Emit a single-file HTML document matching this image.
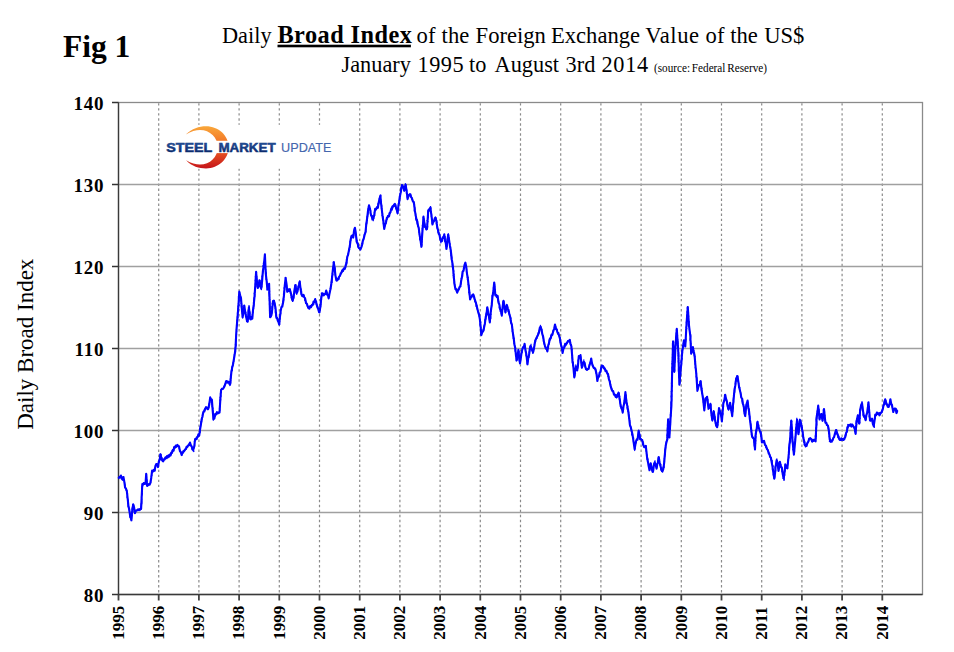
<!DOCTYPE html>
<html><head><meta charset="utf-8">
<style>
html,body{margin:0;padding:0;background:#fff;width:954px;height:652px;overflow:hidden}
svg{position:absolute;left:0;top:0}
</style></head><body>
<svg width="954" height="652" viewBox="0 0 954 652">
<line x1="158.70" y1="102.5" x2="158.70" y2="594.5" stroke="#8a8a8a" stroke-width="1.2" stroke-dasharray="2.4 2.62" stroke-dashoffset="4.35"/><line x1="198.90" y1="102.5" x2="198.90" y2="594.5" stroke="#8a8a8a" stroke-width="1.2" stroke-dasharray="2.4 2.62" stroke-dashoffset="4.35"/><line x1="239.10" y1="102.5" x2="239.10" y2="594.5" stroke="#8a8a8a" stroke-width="1.2" stroke-dasharray="2.4 2.62" stroke-dashoffset="4.35"/><line x1="279.30" y1="102.5" x2="279.30" y2="594.5" stroke="#8a8a8a" stroke-width="1.2" stroke-dasharray="2.4 2.62" stroke-dashoffset="4.35"/><line x1="319.50" y1="102.5" x2="319.50" y2="594.5" stroke="#8a8a8a" stroke-width="1.2" stroke-dasharray="2.4 2.62" stroke-dashoffset="4.35"/><line x1="359.70" y1="102.5" x2="359.70" y2="594.5" stroke="#8a8a8a" stroke-width="1.2" stroke-dasharray="2.4 2.62" stroke-dashoffset="4.35"/><line x1="399.90" y1="102.5" x2="399.90" y2="594.5" stroke="#8a8a8a" stroke-width="1.2" stroke-dasharray="2.4 2.62" stroke-dashoffset="4.35"/><line x1="440.10" y1="102.5" x2="440.10" y2="594.5" stroke="#8a8a8a" stroke-width="1.2" stroke-dasharray="2.4 2.62" stroke-dashoffset="4.35"/><line x1="480.30" y1="102.5" x2="480.30" y2="594.5" stroke="#8a8a8a" stroke-width="1.2" stroke-dasharray="2.4 2.62" stroke-dashoffset="4.35"/><line x1="520.50" y1="102.5" x2="520.50" y2="594.5" stroke="#8a8a8a" stroke-width="1.2" stroke-dasharray="2.4 2.62" stroke-dashoffset="4.35"/><line x1="560.70" y1="102.5" x2="560.70" y2="594.5" stroke="#8a8a8a" stroke-width="1.2" stroke-dasharray="2.4 2.62" stroke-dashoffset="4.35"/><line x1="600.90" y1="102.5" x2="600.90" y2="594.5" stroke="#8a8a8a" stroke-width="1.2" stroke-dasharray="2.4 2.62" stroke-dashoffset="4.35"/><line x1="641.10" y1="102.5" x2="641.10" y2="594.5" stroke="#8a8a8a" stroke-width="1.2" stroke-dasharray="2.4 2.62" stroke-dashoffset="4.35"/><line x1="681.30" y1="102.5" x2="681.30" y2="594.5" stroke="#8a8a8a" stroke-width="1.2" stroke-dasharray="2.4 2.62" stroke-dashoffset="4.35"/><line x1="721.50" y1="102.5" x2="721.50" y2="594.5" stroke="#8a8a8a" stroke-width="1.2" stroke-dasharray="2.4 2.62" stroke-dashoffset="4.35"/><line x1="761.70" y1="102.5" x2="761.70" y2="594.5" stroke="#8a8a8a" stroke-width="1.2" stroke-dasharray="2.4 2.62" stroke-dashoffset="4.35"/><line x1="801.90" y1="102.5" x2="801.90" y2="594.5" stroke="#8a8a8a" stroke-width="1.2" stroke-dasharray="2.4 2.62" stroke-dashoffset="4.35"/><line x1="842.10" y1="102.5" x2="842.10" y2="594.5" stroke="#8a8a8a" stroke-width="1.2" stroke-dasharray="2.4 2.62" stroke-dashoffset="4.35"/><line x1="882.30" y1="102.5" x2="882.30" y2="594.5" stroke="#8a8a8a" stroke-width="1.2" stroke-dasharray="2.4 2.62" stroke-dashoffset="4.35"/>
<line x1="118.5" y1="184.50" x2="922.5" y2="184.50" stroke="#a0a0a0" stroke-width="1.3"/><line x1="118.5" y1="266.50" x2="922.5" y2="266.50" stroke="#a0a0a0" stroke-width="1.3"/><line x1="118.5" y1="348.50" x2="922.5" y2="348.50" stroke="#a0a0a0" stroke-width="1.3"/><line x1="118.5" y1="430.50" x2="922.5" y2="430.50" stroke="#a0a0a0" stroke-width="1.3"/><line x1="118.5" y1="512.50" x2="922.5" y2="512.50" stroke="#a0a0a0" stroke-width="1.3"/>
<rect x="118.5" y="102.5" width="804.0" height="492.0" fill="none" stroke="#8a8a8a" stroke-width="1.3"/>
<g font-family="Liberation Serif, serif" font-weight="bold" font-size="19" letter-spacing="0.8" fill="#000"><text x="104.3" y="110.00" text-anchor="end">140</text><line x1="112" y1="102.50" x2="118.5" y2="102.50" stroke="#333" stroke-width="1.5"/><text x="104.3" y="192.00" text-anchor="end">130</text><line x1="112" y1="184.50" x2="118.5" y2="184.50" stroke="#333" stroke-width="1.5"/><text x="104.3" y="274.00" text-anchor="end">120</text><line x1="112" y1="266.50" x2="118.5" y2="266.50" stroke="#333" stroke-width="1.5"/><text x="104.3" y="356.00" text-anchor="end">110</text><line x1="112" y1="348.50" x2="118.5" y2="348.50" stroke="#333" stroke-width="1.5"/><text x="104.3" y="438.00" text-anchor="end">100</text><line x1="112" y1="430.50" x2="118.5" y2="430.50" stroke="#333" stroke-width="1.5"/><text x="104.3" y="520.00" text-anchor="end">90</text><line x1="112" y1="512.50" x2="118.5" y2="512.50" stroke="#333" stroke-width="1.5"/><text x="104.3" y="602.00" text-anchor="end">80</text><line x1="112" y1="594.50" x2="118.5" y2="594.50" stroke="#333" stroke-width="1.5"/></g>
<g font-family="Liberation Serif, serif" font-weight="bold" font-size="17" fill="#000"><line x1="118.50" y1="594.5" x2="118.50" y2="600.5" stroke="#444" stroke-width="1.8"/><text transform="translate(123.80,639.8) rotate(-90)">1995</text><line x1="158.70" y1="594.5" x2="158.70" y2="600.5" stroke="#444" stroke-width="1.8"/><text transform="translate(164.00,639.8) rotate(-90)">1996</text><line x1="198.90" y1="594.5" x2="198.90" y2="600.5" stroke="#444" stroke-width="1.8"/><text transform="translate(204.20,639.8) rotate(-90)">1997</text><line x1="239.10" y1="594.5" x2="239.10" y2="600.5" stroke="#444" stroke-width="1.8"/><text transform="translate(244.40,639.8) rotate(-90)">1998</text><line x1="279.30" y1="594.5" x2="279.30" y2="600.5" stroke="#444" stroke-width="1.8"/><text transform="translate(284.60,639.8) rotate(-90)">1999</text><line x1="319.50" y1="594.5" x2="319.50" y2="600.5" stroke="#444" stroke-width="1.8"/><text transform="translate(324.80,639.8) rotate(-90)">2000</text><line x1="359.70" y1="594.5" x2="359.70" y2="600.5" stroke="#444" stroke-width="1.8"/><text transform="translate(365.00,639.8) rotate(-90)">2001</text><line x1="399.90" y1="594.5" x2="399.90" y2="600.5" stroke="#444" stroke-width="1.8"/><text transform="translate(405.20,639.8) rotate(-90)">2002</text><line x1="440.10" y1="594.5" x2="440.10" y2="600.5" stroke="#444" stroke-width="1.8"/><text transform="translate(445.40,639.8) rotate(-90)">2003</text><line x1="480.30" y1="594.5" x2="480.30" y2="600.5" stroke="#444" stroke-width="1.8"/><text transform="translate(485.60,639.8) rotate(-90)">2004</text><line x1="520.50" y1="594.5" x2="520.50" y2="600.5" stroke="#444" stroke-width="1.8"/><text transform="translate(525.80,639.8) rotate(-90)">2005</text><line x1="560.70" y1="594.5" x2="560.70" y2="600.5" stroke="#444" stroke-width="1.8"/><text transform="translate(566.00,639.8) rotate(-90)">2006</text><line x1="600.90" y1="594.5" x2="600.90" y2="600.5" stroke="#444" stroke-width="1.8"/><text transform="translate(606.20,639.8) rotate(-90)">2007</text><line x1="641.10" y1="594.5" x2="641.10" y2="600.5" stroke="#444" stroke-width="1.8"/><text transform="translate(646.40,639.8) rotate(-90)">2008</text><line x1="681.30" y1="594.5" x2="681.30" y2="600.5" stroke="#444" stroke-width="1.8"/><text transform="translate(686.60,639.8) rotate(-90)">2009</text><line x1="721.50" y1="594.5" x2="721.50" y2="600.5" stroke="#444" stroke-width="1.8"/><text transform="translate(726.80,639.8) rotate(-90)">2010</text><line x1="761.70" y1="594.5" x2="761.70" y2="600.5" stroke="#444" stroke-width="1.8"/><text transform="translate(767.00,639.8) rotate(-90)">2011</text><line x1="801.90" y1="594.5" x2="801.90" y2="600.5" stroke="#444" stroke-width="1.8"/><text transform="translate(807.20,639.8) rotate(-90)">2012</text><line x1="842.10" y1="594.5" x2="842.10" y2="600.5" stroke="#444" stroke-width="1.8"/><text transform="translate(847.40,639.8) rotate(-90)">2013</text><line x1="882.30" y1="594.5" x2="882.30" y2="600.5" stroke="#444" stroke-width="1.8"/><text transform="translate(887.60,639.8) rotate(-90)">2014</text></g>
<line x1="118.5" y1="102.5" x2="118.5" y2="594.5" stroke="#3a3a3a" stroke-width="1.3"/>
<line x1="118.5" y1="594.5" x2="922.5" y2="594.5" stroke="#3a3a3a" stroke-width="1.3"/>

<rect x="163" y="124.8" width="178" height="43.8" fill="#fff"/>
<defs>
<linearGradient id="arcg" x1="0" y1="126" x2="0" y2="169" gradientUnits="userSpaceOnUse">
<stop offset="0" stop-color="#f9a83a"/><stop offset="0.5" stop-color="#f06522"/><stop offset="1" stop-color="#c4121b"/>
</linearGradient>
<linearGradient id="txg" x1="0" y1="142" x2="0" y2="152" gradientUnits="userSpaceOnUse">
<stop offset="0" stop-color="#2a5aa6"/><stop offset="1" stop-color="#0a2868"/>
</linearGradient>
</defs>
<path d="M185.8 134.6 C192 128.5 199 126.2 206 126.2 C218.5 126.2 228.7 135.5 228.7 147.3 C228.7 159 218.5 168.4 206 168.4 C199 168.4 192 166.5 186.1 160.3 C191 163.3 196 164.6 200 164.6 C210 164.6 217.8 157 217.8 147.3 C217.8 137.6 210 130 200 130 C196 130 191 131.3 185.8 134.6 Z" fill="url(#arcg)"/>
<rect x="213" y="140.8" width="18" height="12.3" fill="#fff"/>
<text x="166.3" y="151.6" font-family="Liberation Sans, sans-serif" font-weight="bold" font-size="12.5" fill="url(#txg)" stroke="#10357c" stroke-width="0.5" textLength="46" lengthAdjust="spacingAndGlyphs">STEEL</text>
<text x="218.4" y="151.6" font-family="Liberation Sans, sans-serif" font-weight="bold" font-size="12.5" fill="url(#txg)" stroke="#10357c" stroke-width="0.5" textLength="57.2" lengthAdjust="spacingAndGlyphs">MARKET</text>
<text x="281.1" y="151.6" font-family="Liberation Sans, sans-serif" font-size="12.5" fill="#4466ad" stroke="#4466ad" stroke-width="0.15" textLength="50.4" lengthAdjust="spacingAndGlyphs">UPDATE</text>

<path d="M118.40 478.62 L119.23 477.14 L120.07 477.31 L120.90 475.51 L121.70 478.50 L122.50 479.52 L123.50 477.08 L124.30 481.59 L125.10 487.55 L125.95 488.59 L126.80 490.89 L127.65 498.28 L128.50 506.55 L129.25 509.43 L130.00 515.16 L130.70 516.96 L131.40 520.32 L132.20 510.77 L133.20 504.25 L134.05 507.18 L134.90 513.17 L135.90 510.59 L136.90 510.52 L137.95 509.32 L139.00 510.19 L140.05 509.10 L141.10 508.90 L142.30 483.94 L143.03 484.63 L143.77 483.04 L144.50 484.03 L145.50 483.52 L146.20 473.81 L147.00 485.72 L147.85 485.23 L148.70 484.23 L149.55 484.73 L150.40 482.64 L151.25 477.71 L152.10 470.64 L152.93 471.42 L153.77 469.88 L154.60 470.73 L155.45 465.84 L156.30 464.12 L157.15 464.35 L158.00 467.08 L158.83 461.33 L159.67 459.48 L160.50 454.23 L161.50 459.07 L162.50 460.85 L163.20 461.29 L163.90 459.52 L164.75 459.40 L165.60 457.26 L166.31 457.48 L167.03 456.09 L167.74 457.48 L168.46 455.27 L169.17 456.68 L169.89 454.66 L170.60 455.50 L171.32 452.56 L172.03 452.82 L172.75 450.21 L173.47 450.63 L174.18 447.04 L174.90 447.62 L175.72 445.71 L176.55 446.23 L177.38 444.81 L178.20 446.14 L179.05 446.33 L179.90 451.02 L180.75 451.91 L181.60 455.10 L182.30 452.75 L183.00 452.66 L183.70 451.05 L184.40 450.89 L185.10 449.53 L185.80 448.78 L186.64 446.68 L187.48 446.83 L188.32 445.32 L189.16 445.13 L190.00 442.47 L190.85 445.40 L191.70 446.42 L192.55 449.41 L193.40 449.25 L194.25 446.37 L195.10 439.08 L195.92 439.40 L196.74 437.34 L197.56 437.19 L198.38 434.41 L199.20 435.65 L200.00 429.80 L200.85 424.88 L201.70 419.00 L202.55 416.20 L203.40 411.87 L204.27 411.60 L205.13 408.83 L206.00 407.51 L206.73 407.49 L207.47 409.05 L208.20 408.36 L209.20 404.89 L210.20 397.30 L211.05 400.12 L211.90 399.90 L212.70 410.88 L213.50 419.23 L214.37 418.50 L215.23 414.35 L216.10 414.54 L216.95 412.14 L217.80 413.46 L218.65 412.21 L219.50 412.63 L220.30 400.28 L221.10 389.78 L221.97 389.08 L222.83 388.90 L223.70 387.89 L224.53 386.28 L225.37 383.50 L226.20 381.30 L227.03 381.40 L227.87 382.03 L228.70 381.73 L229.40 383.88 L230.10 384.36 L231.30 372.80 L232.13 367.87 L232.97 364.46 L233.80 359.75 L234.65 354.77 L235.50 348.24 L236.40 330.50 L237.60 316.31 L238.45 305.56 L239.30 291.67 L240.15 295.36 L241.00 298.07 L241.80 308.35 L242.60 317.26 L243.45 312.78 L244.30 305.59 L245.15 311.73 L246.00 316.36 L246.85 320.39 L247.70 321.61 L248.90 307.31 L250.20 319.26 L250.90 319.42 L251.60 316.89 L252.30 318.72 L253.03 309.93 L253.77 304.41 L254.50 296.82 L255.30 285.32 L256.10 271.90 L256.95 281.59 L257.80 287.89 L258.65 285.13 L259.50 280.21 L260.35 286.15 L261.20 288.42 L262.05 281.96 L262.90 270.95 L263.90 264.66 L264.90 254.24 L265.80 273.99 L266.60 280.63 L267.40 289.36 L268.25 286.31 L269.10 283.84 L270.10 317.24 L270.95 316.24 L271.80 313.30 L273.00 301.14 L273.85 300.57 L274.70 303.62 L275.55 308.27 L276.40 317.94 L277.10 318.13 L277.80 320.79 L278.50 322.11 L279.20 324.56 L279.90 317.28 L280.60 311.61 L281.43 307.10 L282.27 306.83 L283.10 302.58 L283.93 295.65 L284.77 285.36 L285.60 278.11 L286.45 283.44 L287.30 291.78 L288.17 289.28 L289.03 290.98 L289.90 289.08 L290.60 292.91 L291.30 294.62 L292.00 299.06 L292.70 300.56 L293.60 297.23 L294.50 289.82 L295.40 285.22 L296.70 293.07 L297.50 291.54 L298.23 287.41 L298.97 284.83 L299.70 281.50 L300.70 290.03 L301.70 294.95 L302.57 296.19 L303.43 294.93 L304.30 297.27 L305.15 298.50 L306.00 303.16 L306.83 303.69 L307.67 306.27 L308.50 307.78 L309.35 308.64 L310.20 306.11 L311.05 307.21 L311.90 304.89 L312.72 304.99 L313.55 301.62 L314.38 302.15 L315.20 299.13 L315.93 302.26 L316.67 304.09 L317.40 307.31 L318.10 308.20 L318.80 311.27 L319.50 312.36 L320.30 307.17 L321.15 299.07 L322.00 293.96 L322.83 293.47 L323.67 295.39 L324.50 294.02 L325.35 294.05 L326.20 290.61 L327.03 294.42 L327.87 295.04 L328.70 298.38 L329.57 293.18 L330.43 289.27 L331.30 283.96 L332.13 276.91 L332.97 268.56 L333.80 262.52 L334.63 267.85 L335.47 275.58 L336.30 280.08 L337.02 280.40 L337.75 278.48 L338.48 279.05 L339.20 276.48 L339.95 275.94 L340.70 273.37 L341.45 272.72 L342.20 270.34 L343.05 270.85 L343.90 268.34 L344.75 268.88 L345.60 266.31 L346.45 263.44 L347.30 256.62 L348.15 254.65 L349.00 249.84 L349.83 246.10 L350.67 239.47 L351.50 235.89 L352.35 235.46 L353.20 237.62 L354.05 230.73 L354.90 227.81 L355.75 232.51 L356.60 241.62 L357.53 243.13 L358.47 247.26 L359.40 248.37 L360.40 249.54 L361.40 247.12 L362.10 244.71 L362.80 241.23 L363.70 238.66 L364.60 235.02 L365.50 232.20 L366.35 223.63 L367.20 217.92 L368.10 209.88 L369.00 205.40 L370.00 208.77 L371.00 215.06 L371.70 216.08 L372.40 219.48 L373.10 219.14 L374.15 215.49 L375.20 208.76 L376.10 209.38 L377.00 207.10 L377.90 207.89 L378.73 202.05 L379.57 199.88 L380.40 195.64 L381.10 203.77 L381.80 209.56 L382.60 216.25 L383.40 221.59 L384.20 228.94 L385.10 224.74 L386.00 222.25 L386.90 217.73 L387.60 217.42 L388.30 216.07 L389.00 216.41 L389.70 213.21 L390.40 212.23 L391.10 209.14 L391.80 209.72 L392.55 206.21 L393.30 206.39 L394.05 204.68 L394.80 203.85 L395.50 205.04 L396.20 208.65 L396.90 210.38 L397.60 213.35 L398.45 205.42 L399.30 201.46 L400.00 196.09 L400.70 192.64 L401.40 187.28 L402.10 185.24 L403.15 186.69 L404.20 190.82 L404.90 187.18 L405.60 184.69 L406.60 190.85 L407.60 199.09 L408.65 195.03 L409.70 194.32 L410.40 194.29 L411.10 197.28 L411.80 197.89 L412.80 201.14 L413.80 201.98 L414.85 210.59 L415.90 216.46 L416.60 220.39 L417.30 221.25 L418.00 225.57 L418.70 227.83 L419.60 234.88 L420.50 240.09 L421.40 246.74 L422.10 236.49 L422.80 226.87 L423.50 216.64 L424.90 227.01 L425.60 227.14 L426.30 229.45 L427.00 229.02 L428.20 211.35 L428.93 209.40 L429.67 209.02 L430.40 207.48 L431.10 213.19 L431.80 218.21 L432.50 224.55 L433.30 221.28 L434.10 220.65 L434.90 218.18 L435.70 218.42 L436.43 221.36 L437.17 226.86 L437.90 229.54 L438.70 233.69 L439.50 234.92 L440.30 239.46 L441.10 241.24 L441.90 241.17 L442.70 237.37 L443.50 237.47 L444.30 234.32 L445.03 240.62 L445.77 243.17 L446.50 248.83 L447.35 240.90 L448.20 234.47 L449.07 239.93 L449.93 245.89 L450.80 250.54 L451.85 259.38 L452.90 266.39 L453.75 276.36 L454.60 284.81 L455.47 289.17 L456.33 289.29 L457.20 292.67 L458.00 290.39 L458.80 289.48 L459.60 286.90 L460.40 286.10 L461.13 281.02 L461.87 277.64 L462.60 271.75 L463.53 270.70 L464.47 265.16 L465.40 262.62 L466.23 266.74 L467.07 274.10 L467.90 278.94 L468.63 285.87 L469.37 291.84 L470.10 299.42 L470.90 297.07 L471.70 296.91 L472.50 294.92 L473.30 294.51 L474.10 296.83 L474.90 299.97 L475.70 302.01 L476.50 305.25 L477.32 308.40 L478.15 312.05 L478.98 314.57 L479.80 318.86 L480.55 325.46 L481.30 335.18 L482.20 331.55 L483.10 331.53 L484.00 327.66 L484.82 323.96 L485.65 317.68 L486.48 314.03 L487.30 307.21 L488.13 313.34 L488.97 316.56 L489.80 322.46 L490.75 312.01 L491.70 304.96 L492.53 296.22 L493.37 291.22 L494.20 282.44 L495.40 295.48 L496.13 295.19 L496.87 297.09 L497.60 295.91 L498.45 302.25 L499.30 304.33 L500.13 309.26 L500.97 310.44 L501.80 315.59 L502.65 306.65 L503.50 300.70 L504.50 306.26 L505.50 312.37 L506.90 304.93 L507.73 308.37 L508.57 309.98 L509.40 314.63 L510.23 317.02 L511.07 322.58 L511.90 324.82 L512.75 332.24 L513.60 337.50 L514.45 344.44 L515.30 348.33 L516.00 355.85 L516.70 360.40 L517.55 356.51 L518.40 350.11 L519.20 357.91 L520.00 363.37 L520.70 359.00 L521.40 353.75 L522.10 350.25 L522.93 347.63 L523.77 347.46 L524.60 343.83 L525.45 350.39 L526.30 353.90 L527.50 364.32 L528.25 358.16 L529.00 355.40 L529.75 348.95 L530.50 345.94 L531.33 347.53 L532.17 350.36 L533.00 352.37 L533.87 349.17 L534.73 343.30 L535.60 339.94 L536.43 337.78 L537.27 336.48 L538.10 334.65 L538.93 332.77 L539.77 327.90 L540.60 326.58 L541.47 329.26 L542.33 334.24 L543.20 336.90 L544.05 342.36 L544.90 345.85 L545.73 348.56 L546.57 348.54 L547.40 351.47 L548.23 345.32 L549.07 342.89 L549.90 338.60 L550.73 338.57 L551.57 334.54 L552.40 334.68 L553.27 330.95 L554.13 328.77 L555.00 324.47 L555.83 328.21 L556.67 329.41 L557.50 332.58 L558.35 333.02 L559.20 336.24 L560.05 339.05 L560.90 344.52 L561.75 347.01 L562.60 353.05 L563.43 348.72 L564.27 347.67 L565.10 343.93 L565.90 344.67 L566.70 342.93 L567.50 341.90 L568.23 340.73 L568.97 341.42 L569.70 339.91 L570.55 343.83 L571.40 346.55 L572.60 360.91 L573.45 367.86 L574.30 377.40 L575.15 370.52 L576.00 366.69 L577.20 370.44 L578.00 365.05 L578.80 356.17 L579.65 357.42 L580.50 355.02 L581.90 367.78 L582.90 363.39 L583.90 361.80 L584.63 362.83 L585.37 367.17 L586.10 369.24 L586.93 369.86 L587.77 369.14 L588.60 369.03 L589.47 364.75 L590.33 363.14 L591.20 358.48 L592.00 363.37 L592.80 366.05 L593.67 367.90 L594.53 367.82 L595.40 369.39 L596.40 373.16 L597.40 381.05 L598.13 376.88 L598.87 376.79 L599.60 372.81 L600.43 372.12 L601.27 367.09 L602.10 365.64 L602.97 366.04 L603.83 368.45 L604.70 368.31 L605.53 371.15 L606.35 370.61 L607.17 373.10 L608.00 373.94 L608.85 379.00 L609.70 381.43 L610.55 386.01 L611.40 388.75 L612.27 390.99 L613.13 391.04 L614.00 394.67 L614.83 394.46 L615.67 397.05 L616.50 397.21 L617.23 396.66 L617.97 393.75 L618.70 392.82 L619.70 399.14 L620.70 406.37 L621.70 407.87 L622.70 412.65 L623.55 406.21 L624.40 402.18 L625.40 392.10 L626.60 403.28 L627.35 406.07 L628.10 410.05 L629.00 417.03 L629.90 424.94 L630.80 427.43 L631.70 430.91 L632.50 434.56 L633.30 439.94 L634.60 449.05 L636.00 441.37 L636.75 439.26 L637.50 439.74 L638.70 430.62 L639.50 435.74 L640.30 438.76 L641.25 439.88 L642.20 440.04 L643.10 444.76 L644.00 446.44 L644.90 447.25 L645.80 445.78 L647.10 457.52 L648.50 464.72 L649.50 470.25 L650.70 463.38 L651.65 468.52 L652.60 471.72 L653.30 469.87 L654.00 463.86 L654.70 462.43 L655.65 464.92 L656.60 468.64 L657.30 464.01 L658.00 462.43 L658.70 456.98 L659.60 462.66 L660.50 466.20 L661.45 469.76 L662.40 471.10 L663.30 469.07 L664.20 462.59 L665.40 447.86 L666.35 442.58 L667.30 439.34 L668.10 419.40 L669.40 437.48 L670.60 417.51 L671.40 406.02 L672.10 373.46 L673.10 341.44 L674.30 371.71 L675.50 346.29 L676.80 328.88 L677.50 340.20 L678.20 349.68 L679.40 384.80 L680.50 371.50 L681.35 363.39 L682.20 352.01 L683.05 346.67 L683.90 340.27 L685.30 346.53 L686.60 322.79 L687.80 306.95 L689.00 325.31 L690.30 336.18 L691.20 353.34 L692.05 351.25 L692.90 347.11 L693.75 352.38 L694.60 355.79 L695.45 365.49 L696.30 373.80 L697.40 390.85 L698.80 385.36 L699.70 385.30 L700.60 381.48 L701.80 391.01 L703.10 398.98 L704.30 410.35 L705.50 398.38 L706.30 398.45 L707.10 396.77 L707.85 403.60 L708.60 408.22 L709.50 407.20 L710.40 403.87 L711.35 413.67 L712.30 420.20 L713.05 416.79 L713.80 411.56 L714.60 417.54 L715.40 422.05 L716.30 425.94 L717.20 427.24 L718.10 419.34 L719.00 408.14 L720.30 412.26 L721.10 415.63 L721.90 421.46 L723.30 403.79 L724.25 400.67 L725.20 394.70 L726.00 398.69 L726.80 400.81 L727.65 406.48 L728.50 409.16 L729.30 407.34 L730.10 402.76 L730.80 407.39 L731.50 410.66 L732.20 416.16 L732.93 405.87 L733.67 399.09 L734.40 390.19 L735.30 385.43 L736.20 378.33 L737.50 376.18 L738.30 381.43 L739.10 387.08 L740.50 392.69 L741.33 397.63 L742.17 398.58 L743.00 403.95 L743.73 406.20 L744.47 413.21 L745.20 416.07 L746.40 404.44 L747.60 400.58 L748.35 407.67 L749.10 411.56 L749.85 419.21 L750.60 424.61 L751.40 431.74 L752.20 436.97 L753.10 438.22 L754.00 438.60 L755.00 449.36 L755.70 434.04 L756.60 429.54 L757.50 421.94 L758.30 426.80 L759.10 428.73 L759.95 431.51 L760.80 432.03 L761.90 442.47 L762.60 440.84 L763.30 441.46 L764.00 440.78 L765.00 444.63 L766.00 445.70 L766.93 449.02 L767.87 450.16 L768.80 453.67 L769.50 454.51 L770.20 457.13 L770.90 457.59 L771.60 461.70 L772.50 466.65 L773.40 472.75 L774.30 478.62 L775.00 473.70 L775.70 465.97 L776.80 460.37 L777.65 463.73 L778.50 470.84 L779.90 461.75 L780.90 466.79 L781.90 468.20 L782.80 474.54 L783.70 478.47 L784.55 472.56 L785.40 464.54 L786.40 466.95 L787.40 468.02 L788.80 453.69 L789.50 444.08 L790.20 438.53 L791.30 420.67 L792.60 441.70 L793.90 454.58 L795.30 439.94 L796.20 427.76 L797.10 419.80 L798.50 434.17 L799.90 419.86 L800.90 422.81 L801.90 428.81 L802.60 431.96 L803.30 437.84 L804.00 440.44 L804.90 445.22 L805.80 445.90 L806.60 445.86 L807.40 442.81 L808.20 441.82 L809.20 438.88 L810.20 438.32 L811.25 439.25 L812.30 441.66 L813.00 439.95 L813.70 440.79 L814.40 439.92 L815.60 441.44 L816.70 416.48 L817.45 412.47 L818.20 405.63 L819.60 419.55 L820.45 414.82 L821.30 414.14 L822.50 420.59 L823.25 415.33 L824.00 409.05 L825.40 422.72 L826.25 422.67 L827.10 425.00 L827.85 425.61 L828.60 428.41 L829.70 439.32 L830.70 441.77 L831.70 440.30 L832.55 440.51 L833.40 437.74 L834.12 437.14 L834.85 433.82 L835.57 433.09 L836.30 430.02 L837.15 434.01 L838.00 435.34 L838.85 438.22 L839.70 439.88 L840.47 440.03 L841.23 438.32 L842.00 439.85 L842.77 438.88 L843.53 440.01 L844.30 438.41 L845.20 437.16 L846.10 433.00 L846.87 431.48 L847.63 426.72 L848.40 425.99 L849.17 424.77 L849.93 425.72 L850.70 424.24 L851.47 426.59 L852.23 424.51 L853.00 425.95 L853.85 426.92 L854.70 428.85 L855.50 433.65 L856.70 420.76 L857.80 415.34 L858.55 421.31 L859.30 423.62 L860.10 410.33 L861.05 405.42 L862.00 403.14 L863.30 412.79 L864.07 416.93 L864.83 417.46 L865.60 420.27 L866.50 414.69 L867.40 411.78 L868.50 402.32 L869.25 411.93 L870.00 420.43 L871.00 420.43 L872.00 418.72 L872.85 423.80 L873.70 426.14 L874.55 420.66 L875.40 414.47 L876.25 414.93 L877.10 412.96 L877.87 413.97 L878.63 413.67 L879.40 415.33 L880.20 412.85 L881.00 412.92 L881.80 411.97 L882.65 409.71 L883.50 405.58 L884.35 403.68 L885.20 399.28 L886.05 402.46 L886.90 404.20 L887.80 406.78 L888.70 407.03 L889.55 404.35 L890.40 399.26 L891.15 403.51 L891.90 404.96 L893.30 411.96 L894.15 408.91 L895.00 408.52 L895.75 408.70 L896.50 413.07 L897.30 411.19 L898.10 411.25" fill="none" stroke="#0000ff" stroke-width="2.1" stroke-linejoin="round"/>
<path d="M118.3 478.4 L119.5 477.4 L119.7 477.2 L119.9 476.3 L121.1 476.5 L120.7 475.9 L121.0 478.4 L122.1 476.8 L122.8 480.6 L122.7 480.4 L122.4 477.4 L123.2 476.6 L123.1 476.2 L123.1 477.7 L123.7 479.7 L123.9 479.9 L124.0 480.8 L124.1 480.3 L124.8 483.4 L124.8 483.3 L124.3 482.6 L124.4 482.9 L125.1 484.8 L125.3 485.5 L125.5 487.8 L124.5 486.6 L126.0 488.2 L126.5 488.8 L125.9 490.4 L127.1 490.1 L126.4 491.1 L127.5 493.2 L126.6 492.4 L126.7 492.6 L127.6 493.8 L127.4 495.4 L127.1 497.1 L127.1 497.7 L127.1 497.7 L127.4 498.1 L128.3 500.6 L127.6 501.6 L127.6 500.9 L128.5 502.5 L127.7 504.4 L127.9 502.8 L128.6 503.9 L128.2 503.8 L128.0 506.3 L128.3 507.1 L128.6 507.5 L129.5 508.4 L129.1 510.4 L128.8 509.0 L129.8 511.9 L129.2 510.7 L129.9 514.0 L129.4 514.8 L130.3 514.5 L129.9 513.7 L129.7 517.4 L130.2 517.5 L130.5 518.7 L131.2 517.9 L131.0 520.2 L131.0 517.8 L131.6 519.0 L131.8 516.3 L132.3 515.2 L131.3 514.6 L131.9 513.1 L131.6 513.2 L132.2 511.7 L132.0 513.3 L132.9 511.7 L132.6 510.6 L132.1 508.0 L132.0 509.9 L132.9 509.2 L132.2 507.3 L132.9 506.8 L132.8 506.8 L132.6 504.5 L133.5 504.8 L133.7 505.0 L133.9 506.5 L133.5 506.6 L134.4 508.0 L134.0 508.6 L134.7 508.8 L134.5 509.0 L134.7 510.6 L134.2 511.5 L135.5 513.1 L135.7 510.9 L136.2 510.9 L136.3 511.1 L136.4 510.2 L137.4 510.0 L139.0 509.1 L139.9 509.5 L140.5 510.3 L140.8 506.9 L140.9 508.3 L140.8 505.8 L141.7 506.6 L141.2 506.5 L141.1 505.0 L141.0 503.4 L141.8 504.2 L141.9 501.6 L141.6 500.6 L141.1 500.4 L142.0 500.7 L141.9 500.2 L141.4 496.9 L141.6 496.4 L141.4 496.1 L141.9 495.5 L141.6 495.8 L142.4 493.8 L141.4 491.6 L142.4 490.8 L142.2 491.7 L141.8 491.6 L141.5 488.7 L142.0 487.5 L142.5 487.4 L141.7 486.0 L142.4 486.4 L142.4 486.3 L142.7 486.5 L143.3 483.4 L143.7 482.8 L143.9 483.1 L145.8 483.0 L145.3 482.7 L145.8 482.4 L145.8 482.3 L145.6 481.6 L146.3 478.5 L146.3 479.7 L145.4 478.0 L146.1 478.6 L145.8 476.7 L146.5 476.6 L146.6 474.7 L146.3 473.0 L146.5 474.1 L146.4 474.6 L146.0 476.1 L146.9 477.2 L146.5 477.4 L146.3 478.6 L146.9 477.7 L146.1 478.8 L146.7 480.7 L146.7 479.2 L147.1 480.2 L147.1 481.4 L146.6 484.2 L146.5 483.0 L147.0 485.7 L147.4 486.4 L148.2 485.3 L148.9 483.4 L148.7 484.3 L149.5 484.5 L150.6 483.3 L150.9 482.5 L150.4 481.1 L151.2 482.0 L150.5 481.0 L151.6 479.1 L151.2 477.2 L151.3 477.3 L151.5 474.9 L152.1 475.7 L151.5 475.7 L151.8 473.9 L152.1 471.7 L152.0 472.0 L152.6 472.8 L152.7 470.7 L153.3 470.1 L155.0 471.0 L154.8 468.3 L154.7 468.4 L155.8 466.0 L155.9 464.8 L155.4 464.6 L156.3 464.1 L156.1 464.2 L156.4 465.4 L157.0 465.6 L157.7 465.4 L158.2 465.4 L158.2 464.5 L158.5 463.0 L158.3 463.7 L159.0 462.6 L159.4 462.0 L159.6 460.0 L159.6 461.1 L160.0 458.7 L159.4 459.9 L159.5 459.3 L160.5 455.8 L159.9 456.9 L160.0 454.1 L160.9 454.3 L161.1 454.2 L160.9 456.8 L160.7 456.0 L161.7 459.1 L162.3 457.4 L162.0 460.2 L162.3 460.8 L162.1 459.6 L163.4 459.0 L164.5 459.7 L165.1 457.6 L165.2 457.0 L166.7 459.0 L167.5 455.7 L167.2 457.9 L168.4 456.9 L169.0 455.4 L169.9 454.8 L170.7 453.0 L171.3 454.9 L171.1 452.9 L172.2 452.0 L172.0 450.5 L172.8 449.2 L173.7 451.0 L173.9 450.4 L174.2 448.2 L174.6 447.8 L175.5 448.0 L175.4 447.9 L176.8 447.0 L177.8 445.4 L178.7 446.5 L178.7 446.9 L179.1 446.5 L179.3 446.3 L179.1 448.3 L179.0 448.7 L180.1 450.3 L179.9 452.1 L180.7 451.0 L180.9 452.5 L181.1 452.7 L181.9 454.3 L181.8 455.4 L182.6 452.4 L182.7 454.1 L182.7 452.3 L182.9 451.0 L183.8 450.0 L184.1 452.0 L184.9 450.0 L185.9 449.6 L186.4 449.1 L186.7 446.7 L187.0 448.3 L186.8 448.2 L187.5 446.1 L188.0 445.5 L189.1 443.5 L190.0 444.0 L190.0 443.9 L190.2 443.7 L190.9 445.3 L190.9 446.6 L191.3 445.1 L191.6 445.9 L191.9 448.9 L192.5 450.2 L193.3 448.2 L194.0 451.8 L193.0 450.8 L193.6 448.6 L194.4 447.0 L194.0 448.4 L194.4 446.0 L194.8 446.3 L194.5 443.2 L194.7 443.5 L194.3 441.3 L194.9 440.7 L194.9 441.6 L195.0 439.4 L195.7 439.2 L196.5 438.8 L197.2 439.5 L197.4 436.5 L197.2 437.8 L198.5 436.2 L198.5 434.4 L199.4 434.6 L199.5 433.9 L199.8 431.6 L199.4 433.3 L200.3 432.1 L199.4 428.6 L199.9 428.9 L200.4 427.1 L200.4 426.2 L200.0 427.3 L200.7 426.3 L200.6 425.0 L200.6 423.7 L201.3 424.5 L200.7 421.4 L201.7 422.2 L201.8 420.0 L201.5 419.3 L202.1 418.9 L202.1 420.0 L201.9 417.8 L202.6 418.1 L202.5 415.5 L202.3 416.3 L202.5 412.9 L203.3 413.3 L203.6 411.9 L204.1 410.4 L203.8 411.6 L204.0 409.7 L205.2 410.3 L205.0 407.8 L205.5 408.9 L205.8 406.3 L207.0 408.3 L208.0 410.0 L208.7 408.9 L208.7 407.6 L208.3 407.1 L209.2 407.8 L208.5 405.3 L208.8 404.5 L209.0 403.7 L208.9 403.4 L209.8 402.5 L210.0 401.8 L209.4 401.5 L210.3 399.2 L209.5 399.1 L210.3 398.4 L211.3 399.5 L211.7 398.5 L212.0 401.6 L211.5 400.2 L212.3 403.6 L211.6 403.6 L211.8 404.7 L212.4 403.9 L212.0 406.4 L212.4 407.2 L212.3 406.7 L213.1 408.5 L212.6 408.9 L212.9 410.3 L213.2 410.1 L213.2 411.7 L213.3 413.0 L213.3 414.1 L213.6 414.1 L213.1 415.1 L213.5 415.0 L213.1 414.9 L213.6 418.4 L213.2 416.6 L213.1 418.3 L213.3 420.8 L213.3 417.9 L213.7 418.3 L214.8 416.1 L214.3 416.2 L215.2 416.9 L214.9 413.6 L215.4 413.2 L215.8 414.1 L217.1 412.3 L217.4 412.2 L218.3 413.5 L219.3 412.7 L219.9 411.6 L219.3 412.1 L220.2 409.6 L219.8 410.7 L219.8 407.5 L219.3 409.0 L220.3 406.4 L220.0 406.0 L219.7 406.7 L220.3 403.5 L219.5 403.5 L220.0 403.7 L220.5 402.3 L219.9 400.0 L220.1 399.5 L220.9 399.5 L220.6 400.2 L220.2 398.0 L220.2 397.9 L220.0 397.2 L221.1 396.4 L220.3 393.8 L221.1 392.5 L220.8 392.9 L221.5 392.4 L221.4 390.7 L221.4 390.2 L221.6 388.4 L222.4 388.2 L222.9 388.7 L223.3 389.2 L223.8 386.7 L223.7 386.0 L224.5 386.5 L224.6 385.7 L224.6 384.0 L225.3 385.1 L226.0 383.3 L225.3 381.7 L226.5 380.5 L227.1 381.5 L227.3 383.5 L229.1 381.3 L229.2 382.4 L229.3 384.0 L229.5 384.2 L230.0 386.0 L229.9 383.7 L230.5 383.3 L230.9 383.2 L230.7 381.6 L230.9 380.0 L230.1 379.1 L230.8 380.3 L230.3 378.4 L231.2 378.2 L230.4 376.2 L230.5 375.0 L230.9 374.0 L231.6 374.3 L231.2 374.2 L231.5 373.9 L231.2 371.5 L231.4 369.7 L231.5 371.1 L232.4 370.6 L232.2 369.2 L231.6 367.5 L232.1 367.8 L232.0 366.1 L232.6 366.6 L233.2 365.3 L232.6 365.0 L233.6 363.5 L233.1 362.6 L233.0 362.5 L234.2 361.0 L234.1 361.3 L233.6 360.8 L234.2 357.5 L233.7 356.9 L234.4 357.5 L234.2 357.4 L234.4 355.0 L234.2 355.8 L234.3 354.8 L234.9 352.8 L235.1 351.0 L235.6 352.5 L235.6 350.4 L234.9 350.3 L235.2 349.7 L235.2 347.8 L236.0 345.7 L235.7 344.6 L235.1 344.1 L236.3 345.7 L235.9 342.8 L236.0 343.4 L235.7 342.1 L236.2 339.4 L235.5 340.0 L235.5 338.9 L236.1 337.4 L236.0 336.9 L236.1 336.3 L236.3 334.5 L236.3 334.0 L236.7 334.7 L236.2 333.2 L236.4 333.3 L236.6 332.7 L236.3 332.6 L236.8 331.4 L236.3 329.2 L236.6 329.9 L236.6 327.8 L236.6 328.2 L236.5 324.6 L237.1 326.5 L237.2 324.7 L237.3 322.9 L237.2 321.3 L236.7 321.6 L237.3 320.6 L236.8 320.8 L237.5 318.5 L237.3 318.1 L237.3 316.2 L238.1 318.3 L237.9 317.1 L237.7 316.1 L237.5 315.1 L238.0 314.8 L237.4 313.6 L237.5 312.0 L238.6 309.5 L237.8 309.6 L237.9 308.0 L238.7 309.6 L238.1 307.3 L238.4 305.5 L237.8 307.4 L238.2 305.4 L239.0 306.1 L238.5 302.8 L238.3 304.3 L239.1 301.1 L239.1 300.8 L238.7 299.4 L239.3 301.2 L238.5 299.3 L238.5 299.2 L238.4 295.9 L239.3 295.8 L239.6 296.7 L239.4 293.6 L239.4 295.3 L239.2 291.8 L239.0 291.7 L239.8 292.2 L239.4 293.1 L240.2 295.8 L240.1 296.2 L241.0 296.8 L240.4 296.7 L241.5 298.7 L240.8 299.5 L240.6 301.4 L241.1 300.7 L241.3 300.0 L241.5 301.6 L241.1 304.0 L241.0 303.2 L241.8 303.9 L241.3 305.6 L241.3 307.6 L242.3 305.6 L241.8 308.7 L241.7 310.1 L241.9 308.5 L242.1 310.8 L241.9 311.6 L242.5 312.0 L242.2 313.9 L242.5 313.6 L242.9 313.3 L242.7 314.1 L242.6 315.1 L242.5 317.7 L242.9 318.5 L242.4 316.7 L242.5 316.2 L243.0 313.6 L243.2 314.9 L243.3 314.6 L242.9 311.4 L242.9 311.7 L243.5 310.7 L243.4 311.0 L243.3 310.5 L244.0 308.5 L244.4 306.6 L243.8 306.0 L243.8 305.2 L244.6 306.7 L244.3 307.8 L244.2 309.4 L244.4 308.4 L244.5 310.6 L245.4 311.8 L244.6 311.4 L245.1 311.6 L246.0 311.9 L245.5 315.1 L246.2 313.9 L245.7 316.7 L245.3 315.9 L246.5 316.5 L246.2 317.8 L246.6 317.9 L246.5 321.7 L247.7 321.7 L247.4 321.0 L247.8 320.2 L247.8 321.6 L247.7 318.9 L248.5 319.0 L247.5 317.5 L248.3 315.6 L248.0 316.8 L248.6 315.7 L248.7 314.5 L248.2 314.9 L248.3 313.9 L248.1 311.7 L248.1 311.6 L248.2 309.7 L248.3 309.7 L248.5 308.8 L249.4 308.8 L249.3 306.5 L248.8 305.2 L249.2 307.0 L248.8 306.8 L248.8 308.4 L249.1 311.3 L249.6 310.1 L249.3 310.6 L250.0 312.1 L249.9 314.1 L250.2 312.7 L249.6 314.7 L249.4 317.1 L249.7 317.6 L250.0 316.2 L250.0 317.6 L249.6 318.2 L251.0 317.2 L251.4 317.9 L252.4 316.4 L252.6 316.0 L252.7 316.5 L252.1 314.2 L252.4 315.0 L252.6 313.2 L253.3 311.9 L252.7 311.4 L252.7 309.6 L252.5 310.7 L253.3 310.5 L253.8 308.0 L253.6 309.2 L253.1 307.6 L253.7 307.7 L254.1 304.6 L253.9 303.3 L253.7 303.5 L253.4 302.6 L253.8 302.2 L253.8 300.3 L254.0 300.5 L253.8 300.3 L254.0 297.6 L254.2 297.9 L254.1 297.6 L254.8 296.7 L254.8 294.1 L254.5 294.4 L254.2 293.7 L254.2 293.2 L254.9 292.3 L254.7 290.8 L254.4 290.3 L255.5 290.2 L254.7 289.7 L254.7 288.3 L255.3 289.0 L255.0 287.0 L255.8 286.8 L255.5 285.5 L255.2 284.0 L255.1 284.5 L255.9 282.3 L256.0 280.4 L255.1 281.1 L255.4 279.8 L256.2 278.3 L255.4 277.7 L256.0 276.9 L255.2 277.1 L255.8 275.3 L255.9 275.8 L256.1 274.9 L256.1 274.8 L256.7 272.4 L256.0 274.9 L256.0 275.2 L256.6 275.9 L257.0 277.1 L256.1 277.3 L256.6 277.9 L256.5 277.8 L257.1 279.4 L256.5 279.3 L256.7 279.9 L257.1 280.5 L256.6 281.1 L256.7 284.0 L256.8 283.9 L257.7 284.8 L257.1 286.9 L258.0 285.1 L257.3 287.3 L258.1 287.8 L258.1 288.1 L258.2 287.5 L257.9 288.0 L258.7 287.4 L258.6 285.3 L258.9 285.1 L259.2 284.8 L258.5 282.6 L259.4 281.3 L259.0 279.8 L259.6 281.9 L260.2 280.2 L260.0 281.9 L260.1 282.7 L260.6 285.4 L259.7 285.4 L260.0 284.1 L260.3 287.1 L261.3 286.0 L260.7 286.5 L261.1 288.8 L261.0 289.1 L261.6 290.0 L261.1 287.7 L261.6 288.1 L262.1 286.1 L261.8 285.8 L262.0 283.7 L261.4 282.8 L262.3 282.5 L261.9 281.2 L261.8 280.1 L262.1 279.7 L262.3 279.3 L261.9 279.2 L262.1 277.7 L261.8 276.2 L262.9 276.2 L262.0 275.0 L262.6 276.8 L262.3 275.6 L262.7 273.3 L263.2 272.5 L262.4 272.2 L263.2 271.6 L262.8 271.8 L263.6 271.2 L263.2 269.9 L263.6 267.0 L262.9 266.1 L263.1 265.0 L263.5 266.4 L263.5 264.8 L263.3 263.1 L264.5 261.6 L264.1 263.4 L264.5 262.4 L264.1 261.8 L264.7 260.9 L265.0 257.9 L265.1 258.1 L264.9 256.8 L265.2 255.3 L264.9 255.1 L264.8 254.8 L265.1 257.0 L264.8 257.3 L264.8 256.9 L265.5 257.8 L264.6 258.7 L265.4 259.1 L265.5 261.0 L265.4 260.6 L264.8 261.3 L265.1 263.0 L264.7 264.1 L265.3 264.3 L265.5 267.1 L265.1 267.7 L265.3 268.1 L265.1 269.6 L265.5 270.4 L265.3 269.4 L265.9 269.5 L265.4 271.9 L266.3 271.5 L265.4 272.4 L266.4 272.6 L266.0 274.1 L266.1 274.4 L266.2 277.3 L266.6 277.3 L266.2 277.9 L265.8 279.6 L266.6 279.2 L266.7 279.8 L266.4 280.0 L266.8 281.9 L266.7 281.0 L267.0 283.1 L267.0 284.4 L267.5 283.8 L267.0 287.3 L267.4 285.9 L267.5 288.9 L267.2 289.3 L267.0 290.5 L267.7 287.2 L268.4 287.7 L268.8 287.4 L268.9 285.5 L269.4 283.3 L269.5 284.5 L268.8 285.6 L269.1 285.5 L269.6 285.2 L268.9 287.5 L268.7 288.0 L269.6 288.6 L269.0 290.4 L269.7 291.1 L269.4 292.3 L269.7 290.7 L269.2 291.4 L268.8 293.0 L269.8 295.3 L269.0 294.0 L269.3 297.0 L269.6 298.0 L269.0 299.0 L269.2 298.7 L270.0 299.8 L269.2 300.4 L269.5 299.1 L269.4 300.9 L269.8 301.6 L269.8 303.7 L269.3 302.7 L270.0 304.6 L269.3 304.3 L270.3 306.7 L269.6 306.2 L270.4 308.6 L270.1 308.3 L269.6 309.3 L269.5 310.8 L269.8 312.2 L269.8 311.8 L270.0 314.2 L269.8 314.2 L269.7 314.6 L269.8 316.4 L269.8 317.1 L270.3 316.7 L270.6 317.2 L270.8 317.1 L270.9 314.5 L271.3 314.4 L271.7 315.7 L271.6 314.0 L272.1 311.7 L271.9 310.5 L272.6 310.0 L272.1 309.5 L272.6 310.3 L272.4 308.5 L271.9 308.7 L271.9 306.2 L272.4 306.5 L272.8 304.4 L273.1 305.5 L272.1 303.7 L272.8 302.0 L272.8 301.0 L273.1 301.1 L273.6 301.4 L274.2 300.4 L274.5 302.0 L274.9 304.0 L274.3 303.1 L274.8 304.5 L274.6 306.4 L274.7 305.2 L274.7 306.0 L275.6 305.8 L275.0 308.4 L275.6 309.5 L275.3 310.5 L275.9 311.2 L275.3 311.0 L275.3 313.1 L276.5 314.0 L275.5 313.0 L276.2 314.4 L275.7 316.0 L276.1 315.9 L275.9 316.9 L276.2 316.1 L277.0 317.6 L277.6 318.2 L277.4 318.3 L277.5 320.3 L278.1 321.1 L278.8 320.8 L279.1 321.7 L279.5 323.6 L279.1 324.7 L279.7 324.9 L279.3 321.0 L279.0 322.8 L279.8 321.6 L279.2 320.2 L279.2 318.0 L279.6 319.9 L280.1 318.7 L279.4 316.4 L279.6 315.1 L279.7 316.4 L280.0 314.1 L280.5 314.6 L281.0 312.7 L280.5 312.9 L280.5 310.2 L281.1 309.3 L280.9 309.1 L281.3 308.1 L281.5 307.6 L281.3 308.1 L281.6 306.3 L282.4 305.2 L282.3 303.4 L282.7 303.4 L283.1 302.3 L283.5 302.3 L282.7 301.3 L283.9 299.2 L283.5 301.4 L283.3 299.4 L283.4 297.7 L283.8 297.8 L283.5 296.7 L283.8 296.7 L283.4 293.8 L283.7 293.5 L284.4 293.2 L284.6 292.3 L284.0 292.4 L283.8 292.6 L284.8 289.6 L284.3 290.4 L284.9 289.0 L284.1 288.6 L284.2 287.3 L284.9 287.5 L285.0 283.8 L285.5 285.3 L285.1 282.1 L285.4 282.6 L285.4 283.6 L285.8 279.9 L285.7 280.2 L285.7 279.2 L285.5 278.6 L285.1 277.4 L286.0 277.5 L285.4 280.7 L286.1 280.7 L285.6 280.1 L285.9 283.7 L286.4 284.4 L286.0 283.6 L286.6 285.8 L286.2 286.8 L286.7 284.9 L286.8 286.8 L287.2 289.5 L287.1 289.5 L287.1 290.7 L286.8 291.4 L287.8 290.6 L288.7 289.5 L289.5 289.2 L290.2 290.6 L290.1 291.5 L290.9 291.6 L290.7 292.8 L291.4 293.1 L291.3 293.6 L290.9 296.0 L291.5 295.3 L291.1 297.9 L291.6 298.3 L291.9 298.8 L292.2 300.7 L292.8 299.9 L292.5 299.9 L293.0 300.3 L292.6 301.9 L292.4 300.6 L293.2 299.4 L293.0 297.3 L293.9 298.4 L293.8 295.5 L293.9 295.1 L293.4 295.3 L294.0 293.1 L294.3 293.8 L294.6 294.1 L294.5 291.5 L294.9 291.8 L294.2 291.5 L294.9 288.8 L294.5 287.2 L294.9 287.1 L294.8 286.3 L294.7 286.3 L295.0 284.8 L295.1 284.7 L296.0 284.4 L296.0 287.4 L295.9 287.2 L296.1 288.0 L296.1 290.0 L296.4 288.7 L295.6 291.7 L296.1 292.0 L296.1 291.7 L296.3 293.4 L297.1 293.5 L296.8 293.8 L296.6 294.8 L296.6 293.9 L297.5 290.2 L298.0 289.3 L297.8 288.6 L298.5 288.4 L298.5 286.8 L298.5 286.0 L297.9 286.8 L299.3 286.3 L299.3 285.8 L299.1 282.8 L299.3 282.3 L299.5 282.0 L299.7 280.7 L300.1 282.2 L299.9 281.9 L300.0 284.3 L300.7 285.1 L299.8 285.0 L300.2 287.1 L301.0 288.8 L301.1 289.4 L301.1 290.2 L300.2 289.6 L301.0 291.0 L301.2 291.6 L301.7 290.7 L301.3 294.3 L300.8 292.4 L301.9 295.9 L301.0 293.7 L302.1 296.6 L302.6 296.3 L303.7 297.0 L303.7 294.6 L304.9 298.4 L305.1 297.4 L304.7 298.0 L304.6 300.2 L305.1 300.5 L305.6 300.5 L306.0 301.7 L305.7 303.9 L306.0 302.3 L306.4 304.1 L307.4 304.4 L307.1 306.1 L307.5 306.4 L307.8 308.3 L308.1 306.9 L309.1 306.8 L310.5 307.5 L311.4 306.7 L311.4 306.9 L312.0 304.5 L312.5 306.2 L312.8 303.4 L313.9 304.7 L313.6 301.2 L314.4 302.5 L314.3 301.8 L314.7 299.5 L315.3 300.2 L315.4 301.3 L315.1 301.1 L315.8 300.5 L316.7 301.6 L316.1 304.8 L317.2 305.8 L316.7 306.7 L316.7 306.8 L317.9 306.0 L317.3 308.4 L318.5 309.4 L318.8 309.4 L318.4 309.2 L318.6 312.6 L318.7 311.0 L319.3 311.5 L319.4 311.0 L319.3 311.3 L319.9 310.6 L320.3 309.6 L320.6 307.3 L319.9 306.5 L320.1 307.8 L320.9 306.2 L320.1 304.9 L320.7 304.0 L321.1 305.3 L320.8 303.4 L321.3 302.1 L320.6 302.9 L321.7 299.1 L321.5 299.5 L320.8 298.0 L321.0 299.0 L321.2 295.9 L321.3 297.6 L321.7 296.4 L321.8 294.1 L321.3 293.7 L321.4 292.7 L323.0 293.6 L323.6 295.0 L324.3 294.7 L325.4 294.6 L325.3 293.6 L325.7 292.1 L326.7 290.9 L327.0 293.7 L327.3 292.2 L327.1 295.6 L327.2 293.7 L328.0 294.6 L328.2 295.1 L328.9 296.3 L328.2 298.3 L328.7 297.1 L329.0 297.5 L329.2 294.9 L328.7 294.5 L329.2 294.0 L329.8 292.8 L329.3 292.1 L329.9 291.8 L330.6 289.8 L330.2 288.4 L330.7 288.1 L330.9 289.1 L330.4 288.7 L330.8 286.3 L331.1 287.2 L331.1 284.9 L331.0 285.3 L331.4 282.9 L331.1 281.7 L332.0 282.7 L332.2 282.3 L332.0 281.1 L332.1 280.3 L332.3 277.5 L332.4 277.1 L331.8 278.2 L331.7 276.1 L332.1 276.2 L332.5 275.8 L333.0 274.1 L332.1 273.4 L332.2 273.6 L333.2 270.6 L332.5 271.0 L333.3 271.2 L333.2 267.6 L333.4 266.6 L333.7 268.0 L333.7 267.6 L333.5 267.0 L333.7 264.7 L333.5 263.5 L333.1 262.0 L334.2 261.4 L334.1 264.0 L334.3 264.0 L333.9 264.0 L333.9 266.0 L334.6 267.7 L334.2 268.5 L335.1 267.3 L335.2 269.1 L335.3 270.4 L334.7 269.6 L335.0 271.1 L334.5 273.1 L335.3 272.7 L335.6 272.8 L335.1 274.6 L335.2 274.6 L335.1 274.5 L335.6 276.9 L336.4 278.0 L335.9 278.1 L335.8 279.1 L336.7 278.8 L336.2 281.4 L337.2 280.3 L337.6 280.9 L338.5 278.0 L338.7 279.8 L339.2 276.5 L339.9 275.3 L339.4 276.2 L339.9 275.9 L340.8 273.9 L341.2 274.2 L341.4 272.8 L341.5 271.0 L341.8 272.9 L342.7 269.3 L342.3 269.4 L343.6 269.4 L343.5 268.8 L344.6 269.2 L344.9 268.3 L345.8 267.7 L345.2 267.1 L345.4 264.2 L346.0 263.2 L345.7 263.6 L346.3 261.8 L347.0 263.4 L346.6 261.7 L346.5 262.1 L346.4 259.1 L346.7 260.1 L347.2 257.8 L347.2 258.4 L347.2 257.3 L348.0 255.4 L347.8 254.5 L348.1 253.3 L348.5 252.7 L348.3 253.0 L348.7 251.3 L349.5 250.4 L349.0 251.0 L349.8 249.8 L349.3 248.6 L349.8 246.6 L349.9 247.9 L350.0 246.2 L349.8 245.4 L349.7 245.0 L350.2 244.8 L350.1 243.2 L349.9 241.4 L350.9 240.1 L350.8 239.2 L350.7 240.9 L350.6 239.8 L350.6 238.0 L351.6 238.0 L351.2 236.4 L351.8 236.1 L352.4 236.1 L352.3 237.1 L353.3 237.1 L353.9 235.0 L353.8 234.8 L353.9 235.9 L353.5 233.8 L353.9 232.8 L353.7 232.4 L354.7 231.6 L354.1 231.2 L354.4 228.3 L354.7 228.5 L354.8 229.3 L355.0 228.4 L354.8 228.5 L354.6 227.8 L355.4 229.9 L355.7 229.7 L355.1 230.4 L355.5 230.1 L355.4 233.0 L355.3 232.6 L356.2 235.4 L355.6 233.8 L355.5 234.3 L356.5 237.2 L355.9 237.2 L356.5 236.5 L356.8 240.0 L356.2 240.3 L356.8 239.9 L357.3 240.3 L357.0 241.3 L357.2 243.7 L357.6 243.8 L358.4 243.3 L357.7 245.4 L357.8 247.3 L358.3 246.3 L358.6 248.3 L359.4 248.6 L358.8 248.4 L359.6 248.7 L360.5 250.0 L360.4 247.6 L361.1 248.0 L361.1 247.1 L361.3 246.8 L362.1 245.2 L361.7 242.7 L362.2 244.9 L362.7 243.7 L362.3 240.5 L362.5 241.6 L362.9 239.5 L363.7 240.0 L363.5 238.5 L363.7 238.0 L364.0 236.5 L364.1 235.5 L364.3 233.8 L364.6 234.8 L364.8 232.5 L365.7 232.8 L365.5 231.5 L366.1 232.1 L365.8 231.0 L366.0 229.7 L365.8 228.5 L366.0 228.0 L366.1 227.4 L366.5 227.8 L365.9 224.2 L366.1 223.4 L366.8 224.5 L366.2 222.3 L367.0 223.6 L366.9 222.3 L367.0 220.8 L366.7 220.3 L367.4 220.9 L367.5 219.6 L366.6 216.9 L367.8 217.0 L367.3 215.5 L367.9 215.3 L368.2 213.0 L368.3 212.0 L367.4 212.4 L368.1 210.6 L368.2 212.5 L368.2 211.1 L368.5 209.6 L368.1 208.4 L369.1 208.3 L368.4 206.7 L368.9 205.5 L369.1 205.6 L368.6 205.1 L369.6 205.9 L369.0 208.5 L369.5 209.9 L370.0 208.0 L370.3 209.3 L370.7 211.6 L370.8 210.3 L370.1 213.5 L370.4 212.4 L370.4 213.1 L371.2 216.4 L371.3 215.0 L372.2 215.5 L372.2 217.7 L372.8 216.6 L372.7 218.5 L373.2 218.8 L373.4 219.4 L373.3 221.1 L373.1 218.1 L374.1 218.6 L373.2 216.2 L373.6 215.7 L374.5 216.2 L374.8 215.3 L374.5 213.6 L374.8 213.2 L374.2 212.4 L374.7 211.7 L374.5 209.3 L375.8 209.6 L375.5 208.2 L376.4 210.0 L376.4 208.0 L377.4 208.1 L378.0 205.8 L377.7 206.5 L377.8 206.2 L377.9 203.2 L378.6 204.5 L379.0 203.4 L379.4 202.5 L378.7 202.0 L379.0 199.1 L379.1 197.9 L380.3 198.2 L379.5 196.3 L380.6 197.3 L380.9 194.7 L380.0 196.3 L380.2 196.6 L380.3 199.1 L380.3 198.4 L380.9 199.9 L380.5 201.3 L381.0 201.5 L381.0 201.2 L381.3 202.5 L381.0 202.7 L381.8 205.4 L381.3 206.1 L382.0 205.6 L381.4 208.2 L381.5 209.0 L382.2 207.7 L381.5 209.3 L382.2 211.7 L382.3 213.0 L381.8 212.1 L382.7 214.1 L381.9 215.6 L382.7 216.1 L382.4 216.1 L383.2 217.8 L382.9 218.6 L383.5 219.3 L383.2 220.5 L382.7 219.5 L383.3 219.5 L383.7 220.1 L383.6 221.6 L383.3 223.4 L383.3 223.7 L384.2 226.3 L383.6 225.1 L384.2 225.4 L384.5 226.2 L384.3 227.5 L383.8 225.6 L384.1 225.8 L384.6 227.1 L385.3 223.4 L385.6 223.1 L385.5 223.9 L386.2 223.7 L385.9 221.0 L386.1 220.1 L386.7 219.8 L386.9 218.0 L387.2 219.8 L387.1 218.0 L387.5 215.5 L388.4 215.3 L389.3 215.8 L389.5 216.3 L389.1 212.8 L389.4 213.2 L390.6 213.1 L390.6 212.9 L390.7 209.8 L391.3 208.7 L391.2 208.0 L391.4 207.3 L392.3 206.8 L392.8 208.3 L392.9 205.4 L393.7 206.6 L394.4 205.4 L394.5 205.7 L395.0 205.3 L394.8 205.5 L395.5 205.3 L395.0 206.2 L395.5 207.4 L396.1 207.9 L395.8 207.5 L396.7 210.1 L397.4 211.3 L396.8 211.0 L397.4 213.0 L397.5 214.1 L397.7 211.6 L397.8 210.7 L398.5 208.9 L397.9 208.1 L398.4 207.5 L397.9 207.6 L398.5 207.9 L398.4 205.5 L398.5 206.6 L398.4 203.0 L399.3 203.7 L398.5 201.7 L399.5 202.9 L398.7 201.8 L399.0 200.2 L399.6 198.2 L400.1 198.3 L399.3 198.9 L399.4 195.7 L400.2 196.3 L400.6 196.6 L399.9 193.4 L400.5 193.9 L400.3 194.6 L400.4 192.9 L400.3 193.0 L401.5 191.2 L400.9 190.8 L401.7 190.2 L400.8 188.5 L401.1 187.8 L402.2 188.1 L401.5 186.3 L401.7 184.2 L402.4 185.3 L402.2 185.0 L402.9 186.8 L402.8 185.6 L402.7 186.5 L403.8 188.4 L403.8 188.7 L403.8 188.9 L404.8 191.0 L403.9 190.5 L404.7 189.3 L405.0 188.5 L405.4 188.8 L405.0 186.9 L405.1 185.2 L405.3 185.1 L405.4 183.3 L406.1 185.6 L406.0 186.5 L405.8 186.7 L405.7 186.4 L405.6 188.8 L406.7 188.0 L406.2 188.2 L406.0 190.6 L407.0 189.7 L406.4 192.6 L406.4 193.8 L406.7 193.3 L406.6 193.5 L407.0 194.3 L407.5 194.3 L407.5 197.6 L407.2 196.4 L407.0 196.8 L408.0 199.3 L407.3 198.1 L408.3 196.9 L407.9 196.4 L408.6 197.4 L408.9 196.4 L409.8 194.5 L409.3 194.5 L409.5 194.5 L409.8 193.8 L410.5 194.8 L411.5 196.9 L411.7 198.9 L411.8 198.7 L411.8 199.9 L412.4 198.7 L412.6 200.4 L413.0 202.1 L413.6 202.5 L414.1 204.1 L413.4 202.8 L413.5 203.6 L414.7 204.9 L414.2 206.2 L414.5 206.5 L414.9 207.4 L415.1 209.8 L414.2 209.7 L414.4 211.6 L414.5 210.5 L415.5 212.3 L415.5 212.6 L415.4 212.7 L415.5 213.7 L415.9 214.0 L415.3 215.1 L415.9 217.2 L415.5 219.3 L416.7 218.1 L416.1 220.3 L417.3 219.0 L417.2 221.9 L417.6 220.7 L416.8 221.4 L417.2 224.5 L418.2 224.0 L417.5 224.4 L417.8 226.1 L418.6 227.3 L418.4 227.1 L418.7 227.6 L418.8 229.4 L419.2 229.1 L419.1 229.3 L418.6 230.9 L419.1 230.5 L418.9 232.6 L420.1 234.7 L419.1 233.9 L419.6 234.7 L419.4 236.4 L420.4 236.5 L419.7 236.4 L419.6 239.4 L420.0 240.0 L420.8 238.8 L420.2 240.3 L421.0 242.5 L420.6 242.4 L420.8 243.3 L421.4 243.4 L421.5 246.3 L421.4 247.3 L421.9 245.5 L422.0 244.8 L421.9 243.8 L421.3 244.0 L422.0 244.0 L421.3 243.9 L422.2 241.8 L421.3 240.3 L421.6 239.9 L422.4 239.7 L422.4 237.2 L421.7 238.5 L421.9 236.1 L421.6 234.7 L422.1 235.5 L422.1 234.8 L422.1 232.2 L422.6 232.4 L422.4 231.8 L422.2 229.9 L422.3 229.9 L422.1 228.2 L422.6 227.4 L423.2 227.7 L422.7 227.4 L422.2 225.3 L423.2 225.9 L422.9 224.4 L423.3 224.1 L423.4 224.4 L423.6 223.2 L423.4 221.6 L423.3 221.2 L423.3 221.1 L423.8 217.9 L423.7 218.9 L423.6 219.0 L423.0 216.8 L423.5 219.1 L423.3 218.7 L423.4 220.1 L424.0 220.9 L423.9 222.2 L423.6 220.9 L424.6 223.8 L424.8 222.6 L424.0 224.8 L424.9 223.6 L425.3 225.9 L424.3 226.5 L425.2 226.0 L426.4 229.4 L426.0 228.5 L426.7 230.0 L426.6 228.1 L427.0 227.7 L427.1 227.3 L427.7 227.5 L427.7 226.4 L427.0 223.7 L427.3 224.2 L427.5 222.4 L428.1 221.5 L426.9 220.0 L427.2 221.2 L428.0 218.2 L427.4 218.0 L428.1 219.3 L427.5 215.9 L428.4 217.9 L428.1 215.5 L428.2 215.6 L428.0 213.2 L428.1 213.7 L427.9 212.8 L427.7 213.0 L427.9 209.8 L429.3 211.3 L429.8 210.2 L430.3 209.3 L430.5 206.1 L430.8 209.4 L431.0 207.6 L430.2 210.7 L430.8 212.0 L431.5 211.4 L431.2 212.9 L431.4 212.7 L431.4 212.6 L431.8 215.5 L431.8 215.4 L431.2 216.2 L431.9 217.3 L431.3 216.4 L431.7 218.0 L431.6 218.7 L432.0 221.0 L432.7 221.8 L431.7 223.2 L432.5 223.5 L432.6 223.1 L432.7 221.4 L433.5 220.6 L433.9 222.5 L434.3 220.7 L434.9 221.1 L435.3 220.4 L435.3 216.4 L435.8 217.6 L436.3 218.4 L435.8 217.2 L436.5 220.0 L436.8 220.7 L436.8 222.1 L437.1 221.9 L437.1 222.5 L436.2 223.1 L436.8 226.0 L436.9 224.5 L437.4 224.8 L437.1 226.5 L437.0 228.0 L437.5 229.5 L437.6 230.8 L437.5 230.2 L437.8 229.3 L438.1 232.9 L438.3 232.4 L438.8 232.5 L439.0 232.6 L439.0 234.1 L439.8 236.5 L439.8 236.7 L440.3 238.0 L439.5 236.8 L440.5 239.8 L441.0 240.4 L440.3 240.5 L441.0 241.4 L440.7 243.4 L441.5 240.4 L442.4 240.1 L441.7 240.3 L442.2 238.1 L442.6 238.6 L443.0 238.1 L444.1 238.4 L444.4 237.5 L444.0 236.4 L443.9 236.5 L444.1 235.7 L445.3 236.6 L445.1 238.7 L444.4 240.4 L444.6 241.5 L445.6 241.0 L445.3 240.3 L445.8 241.2 L445.7 244.8 L446.0 243.0 L446.2 245.7 L445.9 246.8 L446.3 246.4 L446.4 246.8 L446.2 249.5 L446.4 248.4 L446.5 245.7 L446.2 247.3 L447.2 246.6 L447.1 242.8 L446.7 242.0 L447.3 243.0 L447.8 241.1 L447.1 240.0 L447.1 238.6 L447.6 239.0 L447.5 239.9 L447.6 238.7 L447.9 235.6 L447.4 236.4 L448.5 233.8 L448.4 233.5 L448.5 236.3 L448.7 235.2 L448.2 238.3 L449.2 239.0 L448.9 237.0 L448.8 240.6 L448.5 239.4 L448.6 242.1 L449.1 240.4 L449.3 241.6 L449.5 243.7 L449.9 242.9 L449.9 243.6 L449.9 246.8 L449.8 247.6 L449.9 247.1 L450.7 246.7 L450.5 249.2 L450.8 251.3 L450.9 249.8 L450.4 251.4 L450.6 252.5 L450.5 253.7 L451.0 252.4 L450.8 256.1 L451.8 256.7 L451.3 257.8 L451.2 257.8 L452.2 256.9 L451.2 257.5 L451.4 260.4 L452.1 260.2 L451.7 261.5 L451.8 260.7 L452.5 263.1 L452.8 264.5 L452.1 263.6 L452.3 265.0 L452.2 267.0 L453.1 267.6 L453.0 268.7 L453.4 269.3 L453.5 268.1 L453.0 268.4 L453.6 270.5 L453.9 270.8 L453.3 273.4 L454.0 273.9 L454.0 275.2 L453.3 275.0 L453.2 276.0 L454.3 276.3 L453.4 277.3 L453.4 277.7 L453.5 278.4 L454.4 280.2 L454.5 280.1 L454.1 279.7 L454.6 282.1 L454.2 281.5 L454.3 282.1 L454.0 282.9 L454.4 283.9 L455.0 286.3 L455.4 286.9 L454.8 286.8 L456.0 288.6 L456.1 289.5 L455.7 288.9 L456.5 291.8 L457.4 291.8 L456.9 290.8 L457.7 291.2 L458.5 289.8 L458.0 288.4 L458.2 290.1 L459.6 287.2 L459.0 287.7 L459.7 287.1 L460.9 286.7 L460.3 285.4 L460.4 285.1 L460.5 284.7 L461.2 283.9 L460.9 283.3 L461.3 280.3 L461.5 279.6 L461.0 278.0 L461.8 277.8 L461.3 278.7 L461.5 277.8 L461.8 275.8 L462.7 276.5 L462.7 276.1 L462.6 275.2 L462.7 273.3 L462.6 271.8 L463.1 270.5 L463.4 271.7 L463.7 268.8 L463.1 268.5 L463.8 269.2 L464.2 267.3 L464.4 266.6 L464.8 265.8 L464.8 263.9 L464.5 263.8 L465.6 264.6 L465.2 262.5 L465.5 263.0 L465.3 264.9 L465.3 263.9 L465.6 264.6 L465.6 265.0 L466.1 266.1 L466.4 268.3 L466.5 268.8 L466.6 269.0 L466.5 271.0 L466.4 272.0 L466.9 273.6 L467.1 273.0 L467.4 273.0 L467.0 274.3 L467.6 276.0 L467.0 277.6 L468.1 276.9 L468.3 278.2 L467.6 277.3 L467.3 279.7 L468.3 280.6 L468.4 280.8 L468.5 282.2 L468.4 282.8 L468.6 283.6 L468.0 284.8 L468.8 284.8 L469.2 285.8 L468.3 286.7 L468.6 286.4 L469.4 287.3 L469.3 288.0 L469.1 291.5 L468.7 291.9 L468.7 293.1 L469.9 292.2 L469.6 293.0 L469.1 293.5 L469.6 295.9 L469.3 295.7 L469.8 296.5 L470.3 297.5 L469.8 299.4 L470.2 298.1 L470.7 299.3 L470.6 297.8 L471.7 296.0 L471.8 295.1 L472.7 295.0 L473.4 293.8 L473.7 295.2 L474.1 297.1 L473.7 298.5 L474.3 297.3 L474.2 299.3 L474.7 300.0 L474.7 301.4 L475.0 302.3 L475.4 301.6 L475.9 302.8 L476.1 303.7 L476.8 305.2 L476.0 306.8 L476.1 304.6 L477.3 306.1 L476.6 306.6 L477.3 309.5 L477.0 308.2 L477.2 308.6 L477.7 310.8 L478.7 312.1 L478.8 312.7 L479.1 313.8 L478.5 313.7 L479.0 313.6 L479.7 315.6 L479.0 316.5 L480.0 316.6 L479.9 316.8 L479.6 317.9 L480.0 320.3 L479.7 321.1 L480.2 322.1 L480.8 321.6 L480.8 322.8 L480.3 322.7 L479.9 325.0 L480.0 323.9 L480.1 326.3 L480.3 326.2 L481.0 327.6 L480.4 329.1 L481.4 329.8 L480.9 330.3 L481.2 332.1 L481.4 331.0 L481.5 331.3 L480.8 333.4 L480.9 334.4 L481.4 334.8 L482.0 333.7 L483.0 331.7 L483.2 331.1 L483.1 329.1 L483.8 330.9 L484.2 328.2 L484.2 327.5 L484.1 328.1 L483.8 326.4 L484.5 324.5 L484.9 324.0 L484.6 323.2 L485.0 323.0 L485.2 322.2 L485.4 321.8 L484.7 320.8 L485.0 319.4 L486.0 319.2 L485.9 317.4 L485.9 316.5 L485.5 315.7 L485.4 317.4 L486.6 314.9 L485.6 315.3 L486.5 312.3 L486.8 311.6 L486.2 313.0 L487.0 310.5 L486.8 311.5 L487.1 309.9 L486.7 307.6 L486.8 308.3 L487.4 307.3 L487.6 308.4 L487.7 308.7 L488.1 309.9 L488.3 312.1 L488.4 312.2 L488.3 312.3 L487.9 311.7 L488.5 312.9 L488.6 314.7 L488.7 315.1 L488.4 315.5 L489.1 318.1 L488.8 317.1 L489.1 318.2 L489.4 320.1 L489.7 321.0 L489.8 322.3 L489.6 321.4 L490.0 321.8 L490.3 321.3 L490.0 320.8 L489.9 318.4 L489.9 319.1 L490.8 317.2 L490.8 319.1 L490.7 316.0 L489.9 317.1 L490.0 314.5 L491.2 314.9 L491.1 314.6 L490.4 312.7 L490.4 311.5 L491.0 312.1 L490.8 310.8 L490.7 308.7 L490.7 308.9 L491.4 308.5 L491.3 308.4 L491.7 306.4 L492.0 304.4 L491.4 304.8 L491.8 305.3 L492.0 301.5 L492.4 302.1 L491.6 302.2 L492.3 301.7 L492.3 299.0 L492.3 298.8 L492.2 298.4 L492.1 296.5 L492.1 295.0 L492.7 296.4 L492.7 296.2 L493.0 294.6 L492.7 294.5 L492.9 293.5 L492.9 293.1 L493.5 289.8 L493.7 288.9 L493.4 288.8 L493.4 287.9 L493.3 287.2 L493.3 287.7 L493.7 286.6 L493.9 286.6 L494.6 285.0 L494.6 284.8 L494.8 284.1 L494.5 283.8 L494.3 285.5 L494.7 285.3 L494.9 286.4 L494.6 288.5 L495.2 289.8 L494.5 290.8 L494.7 291.5 L495.0 293.4 L495.1 292.0 L495.0 295.1 L495.1 293.6 L495.4 295.8 L496.7 294.5 L496.7 297.1 L497.6 297.6 L498.0 296.5 L497.4 297.6 L497.9 298.5 L498.0 299.1 L497.9 301.3 L498.9 301.0 L498.3 303.6 L498.5 302.6 L499.1 303.9 L499.6 305.4 L499.5 305.8 L499.1 308.0 L499.8 308.8 L499.7 308.3 L500.4 308.2 L500.0 311.4 L501.3 312.4 L501.0 312.3 L501.3 312.3 L501.0 313.6 L501.5 314.5 L501.3 314.0 L501.4 314.7 L502.0 312.4 L502.4 312.4 L501.9 311.2 L501.7 309.3 L501.8 311.4 L502.9 309.3 L503.1 308.5 L502.9 306.3 L502.7 307.1 L502.7 306.4 L502.7 305.7 L502.7 304.3 L503.0 303.7 L502.7 302.0 L503.6 300.9 L503.4 302.8 L503.6 301.1 L504.0 302.7 L503.7 301.8 L504.2 301.4 L504.0 303.0 L504.3 305.4 L504.8 305.5 L504.7 305.0 L504.8 308.5 L504.9 308.0 L504.9 308.5 L504.7 308.7 L505.6 310.6 L504.8 311.7 L505.9 312.7 L505.3 312.8 L505.5 310.5 L506.0 308.6 L505.9 307.8 L506.0 306.5 L506.7 307.6 L506.4 307.7 L506.8 305.3 L507.6 306.6 L507.3 307.7 L507.9 307.1 L507.3 309.2 L508.3 309.6 L507.8 310.8 L508.1 311.8 L508.9 312.0 L508.4 311.9 L509.5 311.9 L508.8 313.6 L510.0 315.1 L509.4 314.1 L510.3 317.4 L510.3 316.1 L510.5 316.3 L510.0 318.0 L511.1 317.9 L510.3 320.9 L511.2 320.2 L510.6 322.9 L511.8 323.9 L511.5 322.0 L511.9 324.6 L512.1 325.7 L511.9 327.2 L512.0 326.4 L512.3 328.3 L512.4 329.6 L512.1 330.3 L513.0 329.4 L512.1 331.1 L512.9 333.1 L512.9 333.2 L513.3 332.2 L513.3 333.9 L512.9 334.3 L513.2 336.6 L513.5 336.1 L513.1 338.4 L514.0 339.4 L514.2 337.8 L513.7 339.9 L513.8 341.9 L513.9 340.2 L514.3 341.1 L513.9 343.7 L514.7 344.4 L514.2 345.3 L514.8 345.3 L514.6 345.7 L515.0 347.2 L515.3 349.0 L515.0 349.6 L515.1 350.9 L515.1 351.3 L515.9 352.8 L515.7 354.0 L516.4 354.5 L515.7 353.6 L516.2 354.0 L515.7 354.7 L516.4 356.5 L516.8 358.7 L516.4 358.1 L516.3 358.0 L516.1 361.4 L516.5 359.5 L517.4 359.9 L517.3 359.3 L517.7 357.2 L517.2 358.2 L516.8 358.2 L517.3 356.6 L517.1 353.9 L517.2 355.3 L518.4 354.9 L518.0 351.4 L518.5 351.9 L518.6 351.5 L518.5 349.1 L518.1 349.7 L518.5 351.2 L519.2 351.3 L519.1 352.4 L518.4 355.8 L518.7 355.6 L519.2 355.8 L519.0 355.8 L519.5 357.4 L519.5 359.7 L519.0 359.2 L519.4 361.7 L519.8 360.2 L519.8 360.5 L519.9 361.5 L519.6 363.7 L520.2 362.0 L520.3 361.5 L520.6 359.9 L520.9 360.3 L520.2 359.0 L520.9 357.6 L521.3 357.2 L520.8 355.9 L521.0 358.0 L520.8 354.7 L521.3 355.3 L521.0 353.2 L521.6 352.5 L521.1 353.1 L522.2 352.7 L522.3 350.0 L521.8 350.4 L522.2 349.7 L522.6 347.7 L522.6 346.6 L522.8 347.5 L523.3 347.7 L524.7 344.7 L525.2 345.5 L524.2 345.6 L524.7 346.2 L524.5 346.8 L524.6 348.3 L525.4 348.5 L526.0 351.4 L525.7 352.0 L525.7 352.7 L526.3 352.2 L526.4 353.1 L525.9 354.1 L525.9 355.9 L526.2 356.1 L527.0 357.3 L527.2 358.5 L527.1 359.4 L527.2 360.8 L527.2 360.8 L527.2 361.3 L527.8 361.4 L527.0 362.9 L527.3 364.4 L527.8 361.3 L527.4 362.5 L527.8 361.8 L528.0 359.2 L528.4 361.2 L527.8 359.2 L528.5 358.4 L528.5 357.3 L529.3 357.6 L528.7 356.6 L529.1 355.8 L529.7 352.6 L528.9 352.3 L529.7 353.7 L529.1 351.5 L530.1 351.5 L529.8 351.2 L530.4 347.8 L530.5 347.7 L530.2 348.3 L530.0 346.1 L530.9 346.8 L531.1 343.8 L530.9 346.6 L531.5 347.3 L531.0 346.1 L531.1 347.4 L531.8 348.3 L531.6 348.3 L532.5 351.4 L532.0 351.2 L533.3 351.5 L533.0 353.7 L532.6 353.1 L533.6 351.9 L533.3 350.3 L534.1 348.1 L533.3 349.2 L534.5 346.8 L533.7 347.0 L534.6 346.6 L534.6 344.1 L534.2 345.0 L535.0 342.7 L534.3 342.6 L534.9 341.8 L534.7 340.2 L535.5 342.2 L535.6 341.3 L535.2 339.6 L535.9 339.6 L536.6 338.2 L537.3 338.6 L536.8 336.2 L537.2 335.9 L537.8 335.6 L538.1 332.6 L539.0 332.3 L538.4 332.7 L538.4 332.8 L539.4 329.9 L539.5 329.2 L539.6 328.3 L539.5 328.6 L540.0 328.5 L540.7 326.7 L540.2 325.5 L540.9 325.3 L540.4 325.5 L540.9 328.3 L541.0 329.1 L541.3 329.1 L541.2 329.3 L541.9 329.1 L541.8 330.4 L541.7 331.5 L541.8 333.0 L541.8 332.7 L542.2 333.3 L543.1 335.7 L543.3 334.8 L542.7 336.1 L543.2 338.6 L543.8 339.5 L543.0 337.7 L543.5 339.8 L543.3 340.4 L543.6 342.9 L543.9 342.0 L544.0 344.6 L544.1 344.1 L544.4 344.3 L545.5 346.7 L545.6 346.2 L546.3 348.9 L546.3 347.2 L546.0 348.9 L547.0 350.7 L548.0 351.2 L547.3 351.0 L547.9 347.2 L547.6 349.3 L548.5 347.8 L548.5 344.7 L549.0 344.8 L549.0 344.8 L548.8 344.0 L549.5 344.2 L549.1 343.5 L549.0 341.1 L549.3 339.3 L549.6 338.4 L550.5 340.2 L550.2 337.1 L550.3 338.6 L550.7 335.7 L551.2 336.5 L551.2 335.2 L552.1 335.6 L552.3 335.7 L552.4 334.1 L552.4 333.7 L553.2 330.5 L553.8 332.0 L553.3 331.1 L554.5 328.6 L554.6 328.9 L554.6 327.0 L554.5 327.6 L555.3 327.1 L554.8 326.8 L555.9 326.5 L555.4 329.5 L556.6 329.7 L556.4 329.7 L557.3 329.4 L557.5 332.2 L557.5 333.8 L558.2 334.5 L558.3 333.8 L559.0 335.0 L559.7 337.4 L560.0 337.7 L560.3 338.2 L560.1 336.9 L559.9 339.0 L559.7 341.1 L560.2 339.8 L560.0 341.6 L560.5 343.7 L561.0 342.8 L560.6 342.4 L561.4 345.0 L561.3 345.5 L561.4 347.6 L561.1 346.2 L562.1 347.3 L561.8 348.5 L561.9 350.3 L561.8 350.5 L562.7 350.6 L562.9 351.4 L563.0 349.9 L562.9 350.6 L563.6 349.5 L563.2 349.0 L564.4 347.4 L563.9 347.8 L564.2 345.3 L564.3 346.3 L565.6 346.0 L565.7 345.7 L566.5 343.1 L566.4 344.7 L567.6 343.0 L567.7 341.4 L567.7 340.8 L568.6 341.3 L569.9 340.7 L570.4 339.5 L569.8 340.7 L570.2 344.1 L570.5 344.6 L570.4 344.0 L571.3 344.7 L571.5 346.5 L571.6 345.5 L571.3 349.4 L571.4 348.0 L572.2 349.8 L571.9 350.3 L571.9 350.9 L571.6 351.4 L571.6 353.5 L571.5 352.5 L572.1 356.2 L572.5 356.0 L572.5 355.3 L572.3 355.6 L572.4 356.5 L572.0 357.6 L572.3 359.6 L572.3 359.1 L572.2 362.7 L573.3 363.4 L572.4 362.0 L573.4 362.2 L572.6 365.0 L573.6 366.7 L573.6 365.5 L573.5 368.3 L573.8 369.2 L573.7 369.5 L573.7 369.1 L573.7 371.5 L573.7 369.4 L573.7 373.0 L574.1 372.5 L574.4 374.2 L573.6 374.8 L574.5 373.4 L574.7 375.6 L574.6 375.0 L574.1 376.8 L574.1 377.1 L574.9 376.2 L575.2 373.6 L574.5 373.7 L575.3 373.9 L575.6 373.5 L575.2 372.3 L575.7 370.7 L575.6 370.9 L575.9 367.9 L575.1 368.8 L576.1 366.3 L576.3 367.3 L575.6 364.5 L576.4 366.8 L576.0 368.6 L576.3 369.2 L577.3 367.7 L577.2 369.9 L577.7 370.4 L577.2 368.9 L577.8 368.3 L578.0 366.6 L578.1 365.7 L578.0 367.8 L577.6 365.8 L577.8 363.3 L578.4 363.8 L578.5 361.5 L577.8 361.3 L578.7 359.8 L577.8 360.1 L578.4 360.7 L579.0 358.0 L579.0 357.5 L579.1 357.6 L578.9 356.4 L579.8 355.8 L580.6 356.0 L580.5 356.3 L581.1 357.7 L580.4 356.8 L580.6 360.2 L580.9 360.9 L581.7 361.1 L581.0 362.1 L581.3 363.6 L581.4 363.5 L581.7 364.3 L581.2 365.0 L581.6 366.2 L582.1 365.5 L581.7 366.5 L582.7 366.4 L582.3 367.1 L583.0 365.9 L582.9 362.7 L583.0 361.7 L583.3 362.0 L583.6 362.9 L583.9 359.4 L583.7 361.9 L584.3 361.9 L584.5 362.7 L584.9 364.2 L584.4 364.7 L584.8 365.8 L585.3 367.3 L586.1 368.0 L585.8 368.1 L585.4 369.7 L585.7 369.4 L587.0 368.7 L588.2 369.3 L589.2 367.4 L588.8 367.5 L589.2 367.7 L589.4 367.8 L589.5 365.1 L590.1 364.9 L589.7 365.2 L589.9 361.7 L590.5 363.5 L591.2 362.4 L591.1 360.6 L590.9 358.6 L591.3 361.6 L591.7 362.9 L592.2 362.4 L592.1 362.8 L592.7 365.0 L592.0 366.0 L592.8 365.1 L593.1 366.1 L593.7 367.0 L594.3 369.0 L595.2 368.2 L595.3 369.6 L595.8 368.5 L595.7 369.9 L596.0 370.4 L595.8 371.5 L595.9 373.3 L596.8 374.4 L596.7 375.7 L596.5 375.4 L597.0 375.6 L597.2 378.7 L597.5 376.8 L597.7 378.2 L597.0 380.3 L597.5 378.0 L598.2 378.3 L598.4 377.4 L598.8 377.4 L599.2 376.3 L599.7 374.7 L599.8 372.8 L599.3 373.1 L600.2 371.6 L600.8 371.0 L600.4 370.8 L601.2 369.0 L600.6 369.8 L600.9 368.1 L600.8 369.1 L601.4 367.3 L601.4 367.6 L601.4 366.1 L601.6 364.8 L602.3 366.8 L602.9 367.2 L602.8 366.0 L604.4 367.1 L603.7 367.4 L604.5 369.0 L605.0 369.0 L605.6 370.3 L605.7 371.1 L606.7 372.0 L607.3 372.4 L607.2 374.7 L607.5 373.4 L608.1 374.5 L608.0 376.8 L608.3 376.6 L608.8 376.0 L608.8 376.8 L609.1 379.5 L609.7 381.0 L609.0 380.3 L609.8 380.8 L610.3 382.0 L610.4 381.4 L610.0 384.2 L610.7 384.4 L610.9 386.0 L610.6 386.7 L610.9 385.6 L611.5 388.7 L611.7 387.6 L611.7 387.7 L611.8 389.3 L612.3 390.2 L612.8 391.1 L613.4 392.5 L613.3 391.7 L613.7 392.8 L614.3 394.1 L615.2 396.3 L615.0 394.8 L615.7 394.6 L616.2 395.4 L616.6 397.9 L616.7 398.3 L617.0 394.4 L617.1 394.3 L618.3 395.0 L618.2 394.7 L618.3 391.7 L618.9 393.5 L619.3 393.6 L619.5 395.4 L619.4 396.0 L618.9 396.8 L619.9 395.8 L619.3 397.5 L619.3 399.8 L619.9 398.6 L620.1 401.8 L619.5 399.8 L620.2 403.3 L620.3 402.9 L620.2 403.9 L621.0 404.8 L620.9 405.2 L621.2 407.0 L621.0 406.3 L621.0 409.3 L621.7 407.3 L621.9 409.2 L622.2 409.6 L622.9 411.1 L623.1 411.2 L623.3 411.3 L623.0 410.1 L623.6 409.7 L623.3 408.2 L623.3 407.0 L623.4 406.2 L623.1 405.6 L623.2 405.8 L623.4 405.7 L623.8 402.8 L624.2 402.0 L624.5 401.2 L624.9 399.5 L624.0 401.4 L624.8 398.6 L624.9 398.0 L624.9 396.9 L625.0 397.3 L625.5 395.2 L625.3 395.3 L625.7 394.2 L625.8 394.8 L625.4 393.9 L626.2 395.3 L625.8 396.8 L626.0 396.8 L626.1 396.9 L625.9 396.9 L626.4 400.4 L626.6 401.7 L626.7 399.8 L626.3 403.2 L626.1 403.9 L627.1 402.4 L626.6 405.0 L627.3 403.6 L627.3 404.9 L627.9 406.8 L627.0 407.1 L627.2 409.5 L628.4 409.7 L627.5 411.2 L627.9 411.1 L628.6 411.6 L627.9 411.4 L628.8 411.9 L628.5 415.3 L628.6 413.6 L629.0 415.0 L629.2 415.9 L629.4 418.2 L628.7 418.1 L629.1 417.6 L629.8 419.1 L629.5 419.0 L630.0 422.8 L629.8 420.9 L629.9 422.8 L629.8 422.8 L629.5 425.6 L630.3 426.2 L630.7 425.9 L630.7 426.5 L631.1 427.8 L631.5 428.2 L631.3 428.4 L631.1 429.7 L631.3 431.2 L631.9 433.5 L631.6 434.7 L631.9 435.1 L632.3 434.1 L632.8 435.3 L632.2 435.4 L633.2 438.2 L633.7 437.5 L633.6 438.7 L633.4 439.3 L633.4 442.2 L633.3 441.5 L634.2 442.4 L634.2 443.5 L633.7 445.0 L634.2 444.7 L634.7 444.7 L634.6 447.5 L634.6 447.6 L634.7 447.0 L634.7 450.5 L634.5 451.0 L635.0 449.4 L635.2 448.5 L634.5 447.8 L635.4 445.9 L635.1 447.2 L634.7 446.5 L635.2 444.0 L635.8 443.9 L635.4 441.7 L635.7 443.3 L636.5 441.9 L636.2 441.0 L637.2 438.7 L637.1 440.3 L637.1 438.4 L637.7 438.8 L638.0 435.7 L637.5 435.6 L638.2 434.7 L638.4 432.5 L638.3 434.1 L638.3 431.2 L638.3 432.7 L639.3 431.8 L638.8 432.5 L639.6 435.0 L639.9 435.6 L639.7 434.0 L640.2 435.0 L640.1 436.4 L639.4 438.1 L639.8 439.7 L639.9 439.7 L641.2 438.4 L641.9 439.8 L642.8 442.0 L643.2 440.9 L642.5 442.3 L642.9 442.6 L643.6 442.7 L643.6 443.9 L643.6 445.2 L644.0 448.0 L645.2 446.4 L646.4 445.8 L645.5 447.9 L646.3 449.0 L646.1 449.8 L646.0 451.3 L646.6 451.6 L646.5 452.8 L646.5 453.8 L646.6 454.6 L646.6 454.0 L647.0 454.9 L647.4 456.7 L646.7 457.1 L647.3 457.0 L646.9 459.4 L648.1 459.7 L647.7 458.5 L647.6 460.2 L647.4 461.2 L647.9 462.1 L647.7 462.1 L648.9 464.3 L648.2 464.8 L648.5 465.8 L648.4 467.4 L649.5 467.9 L649.7 469.3 L649.4 469.2 L649.7 469.5 L649.2 468.9 L650.2 468.7 L649.5 468.3 L649.6 466.4 L650.0 464.8 L650.2 465.0 L651.0 464.9 L650.9 463.1 L650.5 463.9 L650.8 465.0 L651.1 465.7 L652.0 467.2 L651.7 469.3 L651.5 469.2 L651.5 469.9 L652.8 471.0 L652.2 471.9 L652.6 472.3 L652.9 472.1 L653.4 472.1 L653.6 470.8 L653.5 469.9 L653.0 467.1 L654.0 467.0 L653.2 467.2 L653.5 464.8 L654.6 463.7 L654.6 463.1 L654.7 462.6 L654.6 462.7 L655.0 460.4 L655.1 461.0 L654.8 463.8 L654.9 463.5 L655.1 464.8 L655.4 464.9 L656.5 466.0 L656.2 465.5 L656.1 466.5 L656.7 467.5 L656.4 466.6 L657.2 467.4 L656.8 465.5 L657.0 465.4 L657.5 463.2 L657.2 463.9 L657.5 463.2 L657.5 460.5 L657.5 462.1 L658.3 458.6 L658.2 459.7 L658.2 459.5 L658.1 457.7 L659.0 457.5 L659.6 459.5 L658.8 461.0 L658.9 461.6 L660.0 462.3 L659.2 461.4 L660.4 464.7 L659.9 465.9 L660.7 464.1 L661.0 464.6 L660.6 466.1 L660.7 467.9 L660.8 470.3 L661.2 470.3 L661.7 471.9 L662.2 471.4 L662.7 472.5 L662.5 470.4 L663.1 471.0 L662.9 471.3 L663.1 469.6 L662.9 467.6 L663.6 466.4 L664.3 467.8 L664.0 466.1 L663.7 465.4 L664.6 463.6 L664.3 463.4 L664.0 460.6 L664.0 461.3 L664.6 461.6 L664.2 458.6 L664.4 457.7 L664.3 458.0 L664.9 455.9 L664.3 456.3 L664.8 454.5 L665.0 454.9 L665.4 455.4 L665.1 451.8 L665.0 451.6 L664.8 450.1 L665.3 451.2 L664.9 449.0 L665.8 449.2 L665.5 447.4 L665.9 448.1 L665.4 445.4 L665.5 444.3 L665.5 445.9 L665.6 443.2 L666.1 444.8 L666.1 442.2 L666.7 440.2 L667.0 439.5 L666.9 439.5 L667.9 439.0 L667.1 437.8 L667.1 436.5 L667.2 437.4 L667.3 435.1 L666.9 436.0 L667.3 433.6 L668.0 435.0 L667.6 431.3 L668.0 432.7 L667.1 430.4 L668.1 430.1 L667.3 431.0 L667.4 427.6 L668.0 429.3 L668.0 425.4 L667.3 425.2 L668.1 426.8 L667.4 425.0 L668.1 422.2 L668.4 422.3 L667.8 423.0 L668.1 421.6 L667.5 420.8 L667.7 420.6 L668.5 420.9 L668.4 422.8 L668.7 422.7 L668.2 421.3 L669.0 422.3 L667.9 424.8 L669.1 425.2 L668.2 424.6 L668.3 426.5 L668.5 427.1 L669.2 430.2 L669.4 428.5 L669.1 429.2 L668.9 431.1 L668.8 432.8 L668.8 433.7 L669.5 433.9 L668.7 433.1 L669.6 436.6 L669.0 436.5 L669.7 438.0 L669.0 435.1 L669.0 435.8 L669.4 435.0 L669.2 434.0 L669.4 432.6 L669.8 433.4 L669.4 432.1 L669.3 429.4 L670.1 428.3 L670.3 430.0 L669.6 428.7 L670.2 428.7 L670.1 426.0 L670.6 424.9 L670.7 424.4 L670.1 425.1 L670.6 422.2 L670.5 424.0 L670.3 421.8 L670.6 421.5 L670.4 419.6 L670.2 419.6 L670.4 419.3 L670.1 418.4 L670.3 418.0 L671.1 415.5 L670.3 414.3 L670.5 415.9 L671.3 412.1 L670.3 413.0 L670.9 412.2 L671.4 412.3 L670.6 411.9 L671.1 409.5 L670.7 408.0 L670.8 407.3 L671.3 406.4 L671.0 405.2 L670.8 406.9 L671.3 404.6 L671.0 405.5 L670.9 404.1 L670.9 401.7 L671.5 401.5 L671.7 401.0 L671.8 398.6 L671.3 398.5 L671.5 398.1 L671.1 396.4 L671.1 395.4 L671.8 397.5 L671.7 394.2 L671.8 394.4 L671.4 394.6 L671.4 392.2 L671.1 391.2 L672.2 391.1 L672.0 390.4 L671.5 389.1 L671.8 388.2 L671.8 386.5 L671.7 386.0 L671.8 386.5 L672.3 386.8 L672.3 384.6 L671.6 385.1 L671.4 382.8 L671.4 383.4 L672.2 383.0 L671.6 381.9 L672.2 380.1 L671.9 380.2 L672.0 379.8 L672.5 377.2 L672.1 376.6 L672.5 377.1 L672.0 374.8 L671.9 374.9 L672.3 374.0 L672.2 373.3 L671.6 371.9 L672.4 371.9 L672.6 369.5 L672.8 371.1 L672.4 369.8 L671.9 367.0 L672.0 367.3 L672.8 365.9 L672.9 366.6 L671.8 363.2 L673.0 363.9 L672.8 364.3 L672.2 360.8 L672.9 362.9 L672.4 361.2 L671.9 361.3 L672.7 360.6 L672.8 357.9 L672.2 357.5 L673.1 356.8 L672.7 355.0 L672.2 354.2 L672.5 354.2 L673.2 352.7 L672.4 353.4 L673.3 351.0 L672.5 350.8 L672.3 349.0 L672.9 348.6 L672.5 349.6 L672.9 348.0 L673.1 347.8 L673.4 347.7 L672.5 346.2 L672.4 343.4 L672.7 342.6 L672.6 342.2 L673.4 343.1 L673.1 341.6 L673.4 340.9 L672.6 341.3 L672.8 342.1 L673.8 342.0 L673.0 344.1 L673.4 344.0 L673.2 345.4 L673.8 344.8 L673.8 347.2 L673.9 347.5 L673.6 347.1 L673.1 349.9 L673.3 350.3 L674.1 351.2 L673.7 352.0 L673.3 354.2 L673.4 351.9 L673.5 354.0 L673.3 354.8 L673.2 357.3 L673.7 356.0 L673.8 357.7 L673.6 359.2 L673.7 360.4 L674.1 360.5 L673.4 361.3 L674.5 362.5 L673.4 361.6 L673.3 363.6 L674.4 364.5 L674.2 364.8 L674.3 365.6 L674.4 365.2 L674.1 367.5 L673.6 368.1 L674.6 367.4 L674.5 370.2 L674.7 371.8 L674.4 371.4 L674.2 371.7 L674.4 372.2 L674.7 372.0 L674.3 371.1 L674.7 371.3 L674.8 370.1 L674.2 367.0 L674.1 366.5 L674.6 365.6 L674.6 367.0 L674.6 366.5 L674.5 364.5 L674.4 362.5 L674.8 361.7 L674.4 361.4 L675.1 362.8 L674.5 359.6 L675.4 359.9 L675.3 360.4 L675.1 357.2 L675.6 358.4 L674.4 357.8 L675.2 354.7 L675.1 354.1 L675.5 353.6 L674.7 354.3 L675.0 351.2 L675.5 350.2 L675.4 350.4 L674.9 351.2 L675.6 347.6 L675.9 348.6 L675.8 348.2 L675.1 345.9 L675.1 346.7 L676.1 345.1 L675.8 345.6 L675.7 343.1 L675.5 344.0 L675.4 340.7 L676.3 339.4 L675.6 340.2 L675.7 338.9 L675.5 339.0 L675.6 337.0 L675.7 337.5 L675.9 336.2 L675.8 335.4 L676.2 335.7 L676.1 333.0 L677.0 331.4 L676.6 332.0 L676.4 330.1 L676.7 328.9 L676.2 328.9 L676.7 329.6 L677.2 331.0 L677.1 332.3 L677.3 334.2 L677.1 334.3 L677.2 333.1 L677.6 335.4 L676.7 336.9 L677.3 338.3 L677.2 337.6 L677.9 339.9 L677.8 339.2 L677.4 340.9 L678.0 340.8 L677.9 342.0 L677.7 341.7 L677.5 342.6 L678.4 342.7 L677.5 344.1 L678.3 346.4 L677.7 345.4 L678.2 348.2 L678.2 349.0 L678.2 347.6 L678.5 351.1 L677.8 350.3 L678.8 353.0 L678.6 353.4 L677.9 354.3 L678.7 353.0 L678.8 355.7 L678.9 356.8 L677.9 355.3 L678.8 356.1 L678.3 358.9 L678.9 358.4 L678.4 360.2 L679.1 360.8 L678.4 360.3 L678.2 362.3 L678.9 361.9 L678.9 363.9 L678.8 364.5 L678.6 363.6 L678.8 366.5 L679.2 368.3 L679.0 366.5 L679.3 368.1 L679.4 370.6 L678.4 368.6 L678.4 371.4 L678.9 372.0 L678.8 372.7 L678.5 372.3 L679.3 373.2 L678.6 375.3 L679.7 377.0 L679.6 377.1 L678.6 376.2 L679.3 378.2 L679.6 377.4 L679.4 378.3 L679.6 379.2 L679.3 382.2 L679.9 383.0 L679.7 382.2 L679.5 383.8 L679.4 384.8 L679.4 383.3 L679.9 383.3 L680.2 383.3 L680.1 379.9 L679.8 380.3 L680.2 380.8 L679.6 377.0 L680.5 379.3 L679.9 377.2 L680.0 375.7 L680.4 375.8 L680.8 374.0 L680.4 373.4 L681.1 372.8 L681.1 373.4 L680.1 371.9 L680.2 370.3 L680.9 368.1 L680.9 369.3 L680.7 368.0 L680.9 365.9 L680.8 367.6 L681.3 365.5 L681.5 365.7 L681.6 363.5 L681.4 362.4 L680.9 363.5 L680.9 360.9 L681.9 359.9 L682.1 358.2 L681.2 358.7 L681.9 359.0 L682.3 358.3 L681.5 358.0 L681.4 355.5 L681.8 353.3 L681.7 355.6 L682.7 352.7 L682.8 353.2 L681.8 351.9 L682.1 350.0 L682.8 348.9 L682.5 347.4 L682.6 347.6 L682.5 346.1 L682.9 345.2 L683.7 344.9 L683.1 343.4 L683.8 343.0 L683.0 342.7 L684.2 343.6 L683.7 341.7 L683.4 341.9 L684.4 340.6 L684.8 341.2 L684.6 342.5 L684.9 343.2 L685.1 344.1 L684.7 344.5 L685.7 344.7 L685.4 344.6 L685.2 342.3 L685.4 343.2 L685.8 341.5 L685.7 340.0 L686.2 340.4 L686.0 338.8 L685.8 339.0 L685.8 338.4 L685.6 337.6 L685.7 336.0 L685.5 334.8 L686.4 332.8 L685.6 333.6 L686.3 333.3 L686.3 332.6 L686.3 329.9 L686.3 329.5 L685.7 329.4 L686.9 328.5 L686.7 328.2 L685.9 327.1 L687.0 326.6 L686.3 326.6 L686.8 325.9 L687.0 324.0 L686.6 323.0 L686.5 323.2 L686.3 322.9 L686.6 320.3 L687.0 319.1 L687.1 317.4 L687.4 316.8 L687.5 318.4 L687.5 317.3 L686.8 315.9 L686.7 315.6 L687.6 313.1 L687.3 311.9 L687.6 313.1 L686.9 312.0 L688.0 309.8 L688.1 309.3 L687.0 307.9 L688.0 307.4 L688.2 307.4 L687.3 307.8 L687.6 306.4 L687.3 307.8 L687.9 309.2 L688.1 308.7 L687.5 312.1 L688.0 312.4 L688.6 312.8 L688.5 312.4 L687.9 314.1 L688.9 316.4 L688.1 316.1 L688.2 316.1 L688.2 318.9 L688.4 318.0 L688.1 320.0 L688.1 320.8 L688.4 319.7 L688.2 320.9 L689.3 321.7 L688.6 323.8 L688.6 324.6 L689.5 325.7 L688.4 326.3 L689.5 327.2 L689.3 325.8 L689.5 328.2 L689.4 329.6 L689.2 329.2 L689.8 331.7 L690.3 332.5 L689.6 331.9 L690.0 332.8 L689.6 333.4 L690.7 334.3 L690.8 336.8 L690.4 337.6 L690.9 335.5 L690.5 339.4 L690.2 338.3 L690.1 340.8 L690.6 340.6 L690.7 342.4 L690.6 342.1 L690.6 342.3 L691.3 344.1 L690.7 343.1 L690.9 343.7 L690.8 345.1 L690.7 345.9 L690.6 347.4 L690.5 347.6 L691.2 348.0 L691.4 349.8 L690.7 351.7 L690.9 351.2 L690.5 351.5 L691.7 353.3 L691.1 354.4 L690.9 352.1 L692.1 352.8 L691.6 352.7 L691.8 350.6 L692.6 351.0 L692.2 350.6 L692.3 347.5 L692.9 347.6 L693.1 348.1 L693.6 348.3 L693.3 350.5 L694.0 350.0 L693.6 351.5 L693.6 352.5 L694.6 352.4 L694.7 355.4 L694.4 354.5 L694.1 356.0 L695.1 356.2 L694.5 358.5 L694.4 358.4 L695.2 359.1 L694.7 360.2 L694.8 361.2 L695.5 362.4 L695.5 361.1 L695.0 363.6 L695.5 365.1 L695.3 363.3 L695.0 364.1 L695.6 365.7 L695.1 368.4 L695.2 367.4 L696.1 369.3 L695.5 371.0 L695.9 371.4 L695.9 371.6 L696.6 370.6 L696.2 373.1 L696.8 373.9 L696.0 373.2 L696.4 374.1 L696.2 377.5 L696.1 375.9 L696.7 377.6 L697.1 377.8 L697.0 378.9 L697.3 381.3 L696.4 380.4 L696.8 381.5 L697.0 383.0 L696.5 383.7 L697.4 383.7 L696.8 384.0 L697.2 384.4 L696.8 385.8 L697.5 388.0 L697.3 386.9 L697.2 387.4 L698.0 389.5 L698.2 387.9 L697.8 386.8 L698.3 387.6 L698.9 385.6 L698.7 384.7 L699.8 383.5 L700.5 384.8 L699.8 381.3 L701.0 380.6 L700.9 383.0 L700.7 384.1 L700.4 385.5 L701.5 384.1 L700.9 387.5 L701.0 386.1 L701.8 389.7 L702.1 388.0 L701.2 388.3 L701.3 390.2 L702.5 392.4 L701.7 392.1 L702.2 392.2 L701.8 393.2 L702.2 393.5 L703.1 397.4 L702.7 396.5 L702.9 398.6 L702.9 399.8 L703.6 398.6 L703.3 401.6 L703.1 402.5 L703.4 402.3 L703.0 402.2 L703.8 402.4 L704.3 403.9 L703.9 405.9 L703.7 406.5 L704.3 407.5 L703.9 407.0 L704.3 408.1 L704.3 409.3 L704.7 407.1 L704.2 406.3 L704.6 405.7 L705.2 404.9 L704.7 405.9 L704.6 402.9 L704.7 404.0 L704.9 404.0 L704.8 401.1 L705.3 400.4 L705.2 398.8 L705.5 400.1 L705.9 400.0 L706.7 397.2 L706.9 396.1 L706.7 397.5 L707.3 399.4 L706.9 397.8 L708.0 399.6 L707.9 402.1 L707.4 400.7 L708.1 401.9 L707.9 401.8 L708.1 404.0 L707.8 404.0 L708.7 407.1 L708.1 406.1 L708.2 407.0 L708.4 409.8 L708.0 408.7 L709.0 408.6 L709.0 408.2 L709.4 405.5 L710.3 404.9 L710.3 406.4 L710.0 405.0 L710.8 404.5 L711.1 404.7 L710.7 408.2 L710.8 408.7 L710.7 408.8 L710.9 409.8 L711.3 410.6 L711.4 409.8 L711.4 412.5 L711.6 411.4 L711.5 411.7 L712.1 414.5 L711.3 415.2 L711.4 415.8 L712.1 417.6 L712.4 417.8 L712.0 418.2 L711.6 417.4 L712.6 421.3 L712.6 419.6 L712.5 420.4 L712.2 421.5 L713.1 418.2 L713.0 419.6 L713.0 417.0 L712.7 418.1 L712.7 415.4 L713.1 414.6 L713.0 413.8 L713.1 412.8 L713.4 412.7 L713.2 411.4 L713.7 410.2 L713.7 411.0 L714.3 412.1 L714.1 413.0 L714.5 416.5 L714.7 414.5 L714.2 415.6 L715.1 416.2 L715.1 419.2 L715.3 419.0 L714.9 419.6 L715.3 420.9 L715.5 421.6 L715.8 422.9 L715.4 423.2 L715.7 425.6 L715.8 424.7 L716.5 426.2 L716.4 427.2 L716.8 426.8 L717.1 425.3 L718.0 424.5 L717.9 425.7 L718.0 424.6 L717.6 423.3 L717.7 422.2 L717.4 422.2 L718.2 422.6 L718.4 420.6 L717.6 419.7 L717.7 419.9 L718.4 417.5 L718.0 418.3 L718.2 414.9 L718.6 415.2 L718.0 415.8 L718.2 412.9 L718.6 412.3 L718.5 412.1 L719.3 411.8 L718.8 411.8 L719.4 411.2 L718.4 410.1 L719.8 410.6 L720.1 411.3 L719.9 413.0 L720.8 411.6 L720.7 412.3 L720.5 414.6 L720.5 413.5 L721.2 416.3 L721.7 415.2 L721.2 416.4 L722.1 419.5 L721.3 419.2 L722.1 420.6 L721.9 419.5 L721.7 417.2 L721.7 417.8 L721.8 418.2 L722.0 414.6 L722.5 415.9 L722.7 414.4 L723.0 414.4 L723.1 413.9 L722.3 412.0 L722.3 411.8 L722.6 410.5 L722.7 408.8 L723.0 409.7 L722.8 407.0 L723.2 407.8 L723.1 407.7 L723.7 406.6 L723.3 406.4 L723.4 404.3 L723.1 402.8 L723.5 401.8 L723.5 400.7 L723.5 401.0 L724.1 401.0 L724.6 400.6 L725.0 397.1 L724.9 398.9 L724.4 395.5 L724.5 394.8 L725.7 396.2 L725.0 394.3 L725.1 397.9 L725.6 397.8 L725.8 398.1 L726.4 400.7 L725.9 399.8 L726.9 401.9 L727.0 401.1 L726.4 401.8 L727.2 404.8 L727.4 404.7 L727.3 406.0 L728.2 406.0 L728.0 407.1 L727.7 409.1 L727.6 408.4 L728.8 409.8 L728.4 409.5 L728.5 410.4 L729.1 409.1 L729.6 407.5 L729.0 407.5 L729.9 406.9 L730.0 406.5 L729.2 405.1 L729.6 404.4 L730.4 404.0 L729.9 403.4 L730.0 405.7 L730.8 405.6 L730.7 407.0 L730.7 406.1 L731.5 408.8 L731.1 408.9 L730.9 408.7 L730.8 410.9 L731.9 410.4 L731.3 411.8 L731.5 413.7 L731.6 412.9 L731.9 415.6 L732.5 414.1 L731.8 413.0 L732.5 414.2 L732.0 412.1 L732.9 410.6 L732.8 412.3 L732.8 409.8 L733.0 410.9 L732.9 409.1 L733.0 409.3 L733.5 407.6 L733.0 405.1 L733.1 405.2 L733.4 404.6 L732.9 402.9 L733.6 403.2 L733.7 401.2 L733.4 400.1 L733.1 400.1 L733.3 401.2 L733.2 398.9 L733.3 399.3 L733.3 398.4 L733.7 396.0 L733.5 396.0 L733.5 395.3 L734.1 393.3 L734.4 393.8 L733.7 393.7 L734.8 392.5 L734.9 390.2 L734.1 389.7 L735.2 389.7 L734.3 389.1 L735.3 387.4 L735.2 387.9 L735.1 386.9 L735.4 386.1 L735.8 383.2 L735.2 383.8 L735.5 382.1 L735.2 381.8 L736.5 380.9 L735.7 380.0 L736.3 378.1 L736.1 378.8 L736.7 378.4 L736.7 375.5 L738.0 376.8 L737.8 377.2 L737.4 376.6 L737.8 379.1 L737.9 379.4 L737.6 381.7 L737.9 380.7 L738.7 383.4 L738.3 382.6 L739.0 383.6 L738.3 383.6 L738.7 383.7 L738.5 387.4 L739.5 388.1 L739.1 387.4 L740.0 387.3 L739.6 389.2 L740.2 391.1 L740.7 392.9 L740.4 393.7 L740.6 392.3 L740.7 393.3 L741.4 395.8 L740.6 396.1 L741.5 397.3 L741.1 397.5 L741.3 397.9 L741.8 398.5 L742.1 399.8 L741.9 400.6 L742.1 402.0 L742.2 402.1 L742.4 403.9 L743.7 404.6 L743.2 404.5 L743.7 404.0 L743.3 406.1 L743.3 406.8 L743.6 406.6 L744.0 408.4 L743.6 409.5 L743.8 410.4 L744.1 411.6 L744.5 410.1 L744.4 413.4 L744.5 414.2 L745.2 415.5 L745.2 414.7 L745.0 414.4 L745.0 415.7 L745.6 416.6 L745.5 415.7 L745.4 414.5 L745.3 411.7 L745.6 413.6 L745.7 412.9 L745.6 410.0 L745.4 409.7 L745.7 407.9 L745.8 409.7 L746.4 407.2 L745.8 406.6 L746.0 406.2 L746.1 405.4 L746.7 403.5 L746.5 403.6 L747.3 403.8 L748.0 401.7 L747.7 403.5 L747.9 402.2 L747.8 403.0 L748.3 406.0 L748.4 404.5 L748.2 405.2 L748.7 408.3 L748.2 409.0 L748.2 408.0 L749.4 409.1 L749.2 412.2 L749.4 411.5 L749.1 412.1 L748.9 414.2 L749.4 415.0 L749.5 414.1 L749.3 414.6 L749.9 416.7 L749.6 419.0 L749.7 417.9 L749.6 418.5 L749.7 420.1 L750.0 420.8 L750.6 421.2 L750.4 422.6 L750.9 423.7 L751.0 423.8 L750.2 424.2 L751.1 424.7 L750.6 427.9 L750.4 428.2 L750.9 427.5 L751.7 430.4 L750.9 428.8 L751.4 429.5 L752.0 431.1 L751.3 431.1 L751.7 433.5 L751.3 434.8 L751.9 436.0 L752.5 436.9 L752.0 436.1 L752.4 437.1 L753.0 437.2 L753.6 437.3 L754.2 440.7 L754.7 439.5 L753.9 439.7 L753.8 442.8 L754.2 442.2 L754.1 444.0 L754.2 445.7 L754.0 446.4 L754.6 445.6 L754.8 445.8 L755.3 447.5 L755.0 449.4 L755.2 450.1 L754.6 447.6 L754.7 447.4 L754.8 447.9 L754.8 445.4 L755.1 444.4 L755.5 444.1 L755.6 442.9 L755.7 443.6 L755.2 443.1 L755.9 440.1 L755.5 441.3 L755.1 440.5 L755.3 439.6 L755.4 439.1 L756.0 436.5 L755.0 436.5 L755.7 434.7 L756.2 434.2 L755.9 432.8 L756.2 433.0 L755.6 433.4 L755.9 430.0 L756.6 430.1 L756.8 429.3 L756.6 429.4 L757.1 426.8 L756.3 427.0 L756.5 427.2 L756.8 424.9 L756.6 423.9 L757.1 423.0 L757.0 422.2 L757.8 420.9 L757.7 423.4 L757.3 424.8 L758.4 423.9 L757.8 424.2 L758.9 424.9 L758.8 427.5 L759.1 428.0 L759.0 428.9 L759.7 428.5 L759.5 430.6 L760.0 431.8 L760.3 433.8 L760.5 434.4 L760.3 434.9 L760.5 434.1 L761.0 436.9 L760.8 436.4 L761.7 437.2 L761.7 439.7 L761.9 438.1 L761.5 439.9 L762.1 442.1 L762.3 442.3 L763.1 442.1 L764.4 442.4 L763.9 441.3 L764.5 444.5 L764.6 444.8 L764.9 445.2 L765.9 446.9 L765.8 446.4 L765.6 448.0 L766.1 446.5 L767.2 448.6 L767.2 448.3 L768.1 450.7 L768.4 450.5 L768.4 451.7 L768.3 451.0 L769.2 452.9 L769.8 455.0 L769.8 455.2 L769.6 456.0 L770.4 455.8 L770.4 456.0 L771.0 458.0 L770.7 459.7 L771.7 459.0 L771.0 461.0 L772.3 460.2 L772.2 462.7 L772.2 461.6 L772.0 462.5 L772.8 466.4 L772.6 465.9 L772.8 465.2 L773.2 466.9 L772.6 466.5 L772.3 470.2 L772.6 469.7 L773.3 471.3 L773.1 471.9 L773.7 471.2 L773.3 473.2 L773.8 474.0 L773.1 473.8 L773.6 476.6 L774.1 475.5 L774.1 476.4 L774.7 478.5 L774.8 478.4 L774.0 478.8 L774.1 478.2 L774.9 477.4 L774.8 475.9 L774.2 473.9 L774.4 472.3 L775.0 471.5 L775.0 471.0 L774.8 472.2 L775.8 470.9 L775.5 468.6 L775.3 470.0 L775.0 467.6 L775.3 466.2 L775.3 467.0 L775.6 467.0 L775.8 465.2 L775.9 464.6 L775.7 464.4 L776.1 462.8 L776.3 459.6 L776.7 459.1 L777.1 458.5 L776.4 460.4 L777.2 461.5 L777.4 460.5 L777.8 463.8 L777.8 462.0 L777.3 463.5 L778.2 464.6 L777.7 465.2 L778.3 465.8 L778.1 468.7 L778.1 467.8 L778.4 468.6 L778.8 471.4 L778.3 468.1 L778.6 467.2 L779.3 469.4 L779.2 467.2 L779.3 465.8 L779.4 465.8 L779.9 463.9 L779.2 463.6 L779.2 462.3 L779.9 463.2 L780.3 464.5 L780.7 465.4 L781.1 464.1 L780.5 466.2 L781.4 466.1 L781.8 467.7 L782.0 466.5 L782.3 470.2 L781.7 470.9 L781.9 471.7 L782.7 472.5 L782.0 471.2 L782.7 472.2 L782.6 475.3 L783.4 473.5 L782.6 476.3 L783.2 474.6 L783.8 476.0 L782.9 479.0 L784.0 477.3 L783.8 480.8 L784.4 479.9 L784.3 479.2 L783.9 477.7 L784.5 477.2 L784.3 476.5 L784.6 475.9 L784.8 475.0 L784.1 472.4 L784.5 470.6 L784.4 472.5 L785.3 470.5 L784.9 468.5 L785.0 470.3 L784.8 468.6 L785.5 467.2 L785.1 467.2 L784.9 465.2 L785.1 463.5 L785.5 466.8 L786.5 466.2 L786.1 467.4 L786.7 468.6 L787.8 468.6 L787.3 469.2 L788.0 468.0 L787.4 467.9 L787.2 467.3 L788.0 463.5 L787.4 465.0 L788.4 461.9 L788.1 463.5 L788.2 462.9 L788.6 459.7 L787.7 461.2 L787.9 460.3 L788.9 457.9 L788.7 456.5 L788.5 455.4 L788.7 454.7 L788.5 453.5 L789.2 454.5 L788.5 452.4 L789.1 452.5 L789.0 450.2 L788.8 450.8 L789.4 449.2 L788.6 449.4 L788.8 447.0 L788.8 447.6 L789.2 446.1 L789.6 444.7 L789.2 445.3 L789.2 446.0 L789.4 443.6 L790.2 443.0 L789.4 442.0 L790.4 442.4 L789.7 439.1 L790.5 439.1 L789.5 438.6 L790.4 437.7 L790.6 438.7 L790.5 437.7 L790.4 434.3 L790.6 434.0 L790.8 435.3 L790.4 433.8 L790.0 432.6 L790.8 432.8 L790.1 429.7 L791.0 430.2 L790.7 430.5 L790.3 429.4 L790.4 426.5 L791.1 425.1 L791.3 425.1 L791.4 425.2 L790.8 425.0 L791.6 424.1 L790.7 422.2 L790.7 421.4 L791.0 420.8 L791.8 422.3 L791.8 420.9 L791.4 422.9 L791.8 425.2 L791.0 426.0 L791.4 424.2 L791.8 426.6 L792.3 428.3 L791.7 429.0 L792.3 429.0 L791.7 430.3 L792.3 431.3 L792.1 430.4 L792.3 432.6 L792.3 433.0 L791.6 433.2 L792.3 433.7 L792.0 435.3 L791.9 435.7 L792.3 438.6 L792.7 436.8 L792.3 439.9 L791.9 440.4 L792.8 439.8 L792.0 440.8 L792.5 442.7 L792.2 442.0 L793.1 442.4 L793.0 444.2 L792.8 445.2 L792.9 447.2 L793.6 447.3 L793.4 449.0 L792.8 448.6 L792.8 450.3 L793.9 449.2 L793.4 451.5 L793.6 450.5 L793.6 452.2 L793.9 454.8 L793.3 454.5 L793.9 454.8 L793.6 454.2 L793.6 454.1 L793.9 453.9 L793.9 451.0 L793.9 451.8 L794.7 451.4 L794.4 449.9 L794.3 448.7 L794.1 449.0 L794.5 446.9 L794.2 446.2 L794.4 446.8 L794.3 444.0 L794.4 442.7 L795.0 441.4 L795.2 442.3 L795.4 440.7 L795.3 439.8 L795.5 441.1 L794.9 439.3 L795.7 437.1 L794.9 437.1 L795.5 436.6 L795.9 434.9 L796.0 435.3 L795.4 433.0 L795.8 434.2 L796.4 432.3 L796.0 431.4 L796.3 429.1 L796.4 429.9 L796.3 430.1 L795.8 428.2 L796.9 426.6 L796.6 425.9 L796.8 426.2 L796.1 423.8 L796.5 424.0 L797.1 424.8 L796.9 421.2 L796.8 423.1 L796.4 420.7 L796.7 420.6 L796.8 417.8 L796.8 420.2 L797.2 422.0 L797.0 422.2 L797.9 421.0 L797.5 422.4 L797.4 423.3 L797.9 424.1 L798.3 424.8 L797.5 426.9 L797.4 426.3 L797.7 428.6 L798.4 429.2 L797.8 429.9 L798.7 430.1 L797.7 429.8 L798.2 433.5 L798.9 433.5 L798.1 433.3 L798.2 434.3 L798.9 432.2 L798.7 432.0 L798.9 433.0 L799.1 430.8 L799.3 428.9 L798.7 428.6 L799.2 428.8 L799.2 426.7 L798.7 428.1 L799.4 427.8 L799.2 426.0 L799.3 426.1 L799.2 424.1 L799.9 422.9 L799.5 421.2 L800.2 421.7 L799.7 419.8 L799.7 419.6 L799.5 418.9 L799.9 420.6 L799.8 422.5 L800.9 420.2 L800.6 423.4 L800.3 424.7 L801.7 422.9 L801.1 426.6 L801.2 426.7 L802.1 425.2 L801.9 427.1 L802.4 427.1 L802.4 427.7 L802.4 430.0 L802.9 432.4 L802.9 432.3 L802.5 432.8 L802.7 434.1 L803.5 434.6 L802.6 435.1 L803.2 437.0 L803.0 436.2 L803.6 437.7 L803.5 438.5 L803.3 437.7 L803.7 439.9 L804.2 440.3 L803.8 442.9 L804.7 441.3 L804.9 442.5 L804.2 444.7 L805.1 445.9 L805.2 443.9 L805.4 446.7 L805.5 447.4 L805.8 446.7 L805.9 446.0 L806.5 444.2 L807.7 442.5 L807.0 444.5 L808.2 442.4 L808.2 441.3 L808.8 441.6 L808.6 439.3 L809.4 437.8 L809.3 438.6 L810.8 438.3 L810.4 437.6 L811.6 440.0 L811.6 438.4 L811.4 441.4 L812.1 441.9 L812.6 441.5 L813.7 439.2 L814.0 439.2 L814.9 440.8 L816.1 440.4 L815.3 440.7 L815.3 438.2 L815.7 438.7 L815.9 438.2 L815.3 437.2 L815.3 435.2 L816.3 437.1 L816.4 435.7 L816.1 434.2 L816.0 432.8 L816.5 432.4 L816.5 431.3 L815.8 431.4 L816.4 430.1 L815.8 428.0 L816.3 427.3 L816.6 427.6 L816.5 426.1 L816.8 425.2 L816.9 423.9 L816.7 423.8 L816.9 424.0 L816.7 423.0 L816.8 421.3 L816.4 421.8 L816.0 419.7 L816.2 418.6 L816.3 417.3 L816.7 417.8 L817.0 418.7 L816.9 416.9 L817.4 417.1 L817.0 416.0 L817.1 413.9 L817.0 414.0 L817.1 411.9 L817.4 410.1 L818.0 409.3 L817.3 411.3 L818.2 407.7 L817.6 408.2 L817.5 406.8 L818.0 408.4 L817.8 408.4 L818.1 408.9 L817.9 410.2 L819.1 408.8 L819.3 412.2 L818.6 411.8 L818.3 411.6 L818.5 413.0 L818.8 412.9 L818.7 414.1 L818.8 414.8 L819.8 416.5 L819.0 418.8 L819.2 417.5 L819.3 418.7 L820.1 417.1 L820.5 417.2 L821.2 416.3 L821.1 415.2 L821.0 415.0 L821.5 413.1 L821.4 417.0 L821.5 415.2 L822.5 417.0 L822.1 417.7 L821.9 418.4 L822.9 419.8 L822.8 421.1 L822.3 421.2 L823.2 417.9 L822.3 418.9 L822.5 418.5 L823.1 416.5 L822.9 415.8 L823.1 413.2 L823.5 415.1 L823.7 413.0 L824.1 410.8 L823.4 411.0 L823.3 409.2 L824.4 409.6 L824.3 409.5 L824.7 412.7 L824.1 411.2 L824.2 412.2 L824.3 414.3 L824.9 415.8 L824.8 416.4 L824.9 414.8 L824.4 416.1 L824.5 417.0 L825.2 419.4 L825.1 419.5 L825.4 420.8 L825.2 420.6 L825.4 422.1 L825.4 422.4 L826.3 424.1 L826.4 425.4 L827.4 425.1 L827.5 424.4 L827.7 425.5 L828.2 425.5 L828.0 429.2 L828.1 427.8 L828.6 430.8 L828.6 429.4 L828.9 431.4 L829.4 432.4 L828.5 433.9 L829.6 432.2 L829.6 435.6 L829.7 436.5 L829.1 436.4 L829.7 437.9 L829.6 438.9 L829.7 438.1 L830.2 439.1 L829.2 441.5 L830.5 441.7 L832.2 442.3 L832.4 440.0 L832.6 439.3 L833.3 438.2 L833.3 438.8 L833.3 438.0 L834.1 436.8 L834.6 434.6 L835.2 435.0 L834.8 432.5 L835.0 431.5 L835.4 431.0 L835.4 429.9 L835.8 429.6 L836.1 430.7 L836.4 431.1 L837.2 432.7 L837.7 433.0 L837.9 434.1 L837.9 434.8 L837.8 438.0 L838.3 435.5 L839.0 436.5 L838.7 437.8 L839.1 439.0 L839.5 439.6 L840.8 439.5 L841.7 440.1 L842.5 438.9 L843.0 439.7 L844.9 438.4 L844.7 439.9 L844.8 436.9 L845.6 436.7 L845.7 436.4 L845.0 435.8 L845.4 434.3 L846.3 435.4 L846.2 433.8 L846.5 432.4 L846.8 432.1 L847.3 431.9 L847.4 428.7 L847.1 428.3 L847.1 427.2 L848.0 427.7 L847.8 428.1 L848.3 427.4 L847.6 424.2 L848.4 425.0 L850.1 424.5 L850.3 424.5 L851.4 426.4 L853.1 425.1 L853.7 426.2 L853.5 425.9 L854.6 429.1 L855.0 430.2 L855.4 428.0 L854.5 430.4 L855.1 430.8 L854.9 431.4 L855.9 433.0 L855.4 434.7 L855.8 434.1 L856.0 431.7 L855.4 431.5 L856.1 430.0 L856.3 428.7 L855.6 428.7 L855.6 427.1 L855.8 425.9 L856.2 426.9 L855.7 426.7 L856.1 425.3 L856.8 424.3 L855.9 423.0 L856.0 423.9 L856.2 420.5 L856.5 420.6 L857.0 418.8 L856.4 418.9 L856.5 418.7 L857.7 419.2 L857.6 415.4 L858.0 415.0 L858.0 417.3 L858.6 417.9 L858.0 417.2 L858.7 418.8 L858.3 420.2 L858.9 421.2 L858.3 422.8 L859.2 423.7 L859.4 423.8 L859.0 423.6 L859.9 422.7 L859.9 421.7 L859.4 423.1 L859.6 420.9 L858.9 419.6 L859.1 419.3 L860.2 417.5 L860.2 418.8 L859.3 417.9 L860.0 414.8 L859.4 415.4 L860.3 413.5 L860.2 413.8 L859.5 413.2 L859.7 410.6 L860.0 409.4 L860.5 408.5 L860.7 410.8 L860.8 408.7 L861.2 406.1 L860.7 406.7 L860.6 406.6 L861.7 405.0 L861.0 403.9 L862.2 405.2 L861.9 401.2 L862.5 404.3 L861.6 404.5 L862.1 406.9 L862.5 407.6 L862.4 406.5 L862.6 406.6 L862.6 408.1 L862.4 410.6 L863.0 411.1 L863.1 410.4 L862.8 411.1 L863.4 412.3 L862.9 414.8 L863.2 416.1 L863.8 416.0 L864.9 415.4 L865.1 416.5 L865.0 417.7 L865.3 419.3 L865.9 419.1 L866.0 419.9 L866.0 417.8 L866.1 416.1 L866.4 415.5 L866.3 416.9 L866.4 414.2 L867.0 414.2 L867.5 411.9 L866.9 411.3 L867.0 411.2 L867.8 411.7 L867.3 410.4 L867.4 408.7 L867.4 407.2 L868.3 407.8 L868.1 407.5 L867.7 404.8 L868.5 403.4 L868.3 403.4 L868.1 402.1 L868.3 403.8 L868.4 404.6 L868.5 405.9 L869.2 406.4 L869.2 406.8 L868.4 409.0 L868.6 407.1 L869.3 408.0 L869.1 409.9 L868.6 410.8 L868.8 412.4 L869.7 412.3 L869.5 413.0 L869.6 415.7 L869.2 415.3 L869.0 417.2 L869.1 416.4 L869.6 417.6 L869.5 417.2 L869.9 420.1 L870.5 419.6 L869.7 420.1 L870.5 421.3 L872.4 418.3 L872.7 420.4 L872.5 421.6 L872.9 421.2 L872.7 423.1 L873.2 424.5 L872.9 423.7 L873.7 425.3 L874.3 427.9 L874.4 427.1 L874.4 425.7 L873.5 424.9 L874.6 422.1 L873.8 423.6 L874.0 420.0 L874.4 420.2 L874.4 418.8 L874.7 420.1 L874.4 418.1 L875.6 418.4 L874.6 416.8 L874.9 414.6 L875.8 416.2 L876.6 412.8 L876.0 413.2 L876.9 411.9 L878.4 413.5 L879.2 412.5 L879.4 413.0 L880.6 415.0 L880.1 412.7 L881.8 413.0 L881.7 412.5 L882.0 412.4 L881.8 410.7 L883.0 408.1 L882.5 408.5 L883.1 409.0 L883.3 405.8 L884.0 405.3 L884.1 404.2 L883.5 405.1 L884.0 404.8 L883.8 401.6 L884.1 401.8 L884.4 400.0 L884.9 401.2 L885.5 399.1 L885.3 399.4 L885.9 400.6 L886.2 400.6 L885.8 402.8 L885.8 404.7 L887.1 404.1 L886.4 404.7 L887.3 405.4 L888.0 405.5 L888.2 406.0 L888.5 405.6 L889.0 404.5 L888.9 405.1 L889.6 403.2 L890.0 403.2 L889.6 403.4 L890.3 400.2 L890.4 399.1 L890.4 402.6 L890.8 402.2 L890.6 402.9 L891.8 405.3 L891.6 406.4 L892.5 404.5 L892.5 405.7 L892.4 407.3 L892.2 407.2 L893.3 410.2 L892.8 410.9 L893.3 410.3 L893.7 412.6 L893.4 412.0 L893.8 409.0 L894.8 410.0 L894.3 408.3 L894.6 408.3 L894.8 409.9 L896.0 408.7 L896.2 409.8 L896.1 412.2 L895.7 410.2 L896.3 412.7 L897.3 410.9 L897.1 409.5" fill="none" stroke="#0000ff" stroke-width="1.1" stroke-linejoin="bevel"/>
<text transform="translate(33,429.8) rotate(-90)" font-family="Liberation Serif, serif" font-size="23" fill="#000">Daily Broad Index</text>
<text x="63" y="57" font-family="Liberation Serif, serif" font-weight="bold" font-size="31.5" fill="#000">Fig 1</text>
<g font-family="Liberation Serif, serif" fill="#000">
<text transform="translate(222.0,42.6) scale(1,1.05)" font-size="22.3" font-weight="normal" letter-spacing="0">Daily</text><text transform="translate(277.4,42.6) scale(1,1.05)" font-size="24.3" font-weight="bold" letter-spacing="0.5">Broad</text><text transform="translate(350.6,42.6) scale(1,1.05)" font-size="24.3" font-weight="bold" letter-spacing="0.5">Index</text><text transform="translate(416.6,42.6) scale(1,1.04)" font-size="22.6" font-weight="normal" letter-spacing="0">of</text><text transform="translate(441.6,42.6) scale(1,1.04)" font-size="22.6" font-weight="normal" letter-spacing="0">the</text><text transform="translate(475.6,42.6) scale(1,1.04)" font-size="22.6" font-weight="normal" letter-spacing="0">Foreign</text><text transform="translate(551.0,42.6) scale(1,1.04)" font-size="22.6" font-weight="normal" letter-spacing="0">Exchange</text><text transform="translate(645.3,42.6) scale(1,1.04)" font-size="22.6" font-weight="normal" letter-spacing="0.6">Value</text><text transform="translate(705.6,42.6) scale(1,1.04)" font-size="22.6" font-weight="normal" letter-spacing="0">of</text><text transform="translate(730.3,42.6) scale(1,1.04)" font-size="22.6" font-weight="normal" letter-spacing="0">the</text><text transform="translate(764.2,42.6) scale(1,1.04)" font-size="22.6" font-weight="normal" letter-spacing="0">US$</text>
<rect x="277.5" y="44.7" width="133.4" height="2.6" fill="#000"/>
<text transform="translate(341.5,71.8) scale(1,1.04)" font-size="22.3" font-weight="normal" letter-spacing="0">January</text><text transform="translate(417.6,71.8) scale(1,1.04)" font-size="22.3" font-weight="normal" letter-spacing="0.45">1995</text><text transform="translate(469.0,71.8) scale(1,1.04)" font-size="22.3" font-weight="normal" letter-spacing="0">to</text><text transform="translate(494.6,71.8) scale(1,1.04)" font-size="22.3" font-weight="normal" letter-spacing="0">August</text><text transform="translate(565.6,71.8) scale(1,1.04)" font-size="22.3" font-weight="normal" letter-spacing="0">3rd</text><text transform="translate(601.4,71.8) scale(1,1.04)" font-size="22.3" font-weight="normal" letter-spacing="0.75">2014</text>
<text transform="translate(654,72.3) scale(1,1.08)" font-size="11.2" textLength="113" lengthAdjust="spacingAndGlyphs" word-spacing="-1">(source: Federal Reserve)</text>
</g>
</svg>
</body></html>
